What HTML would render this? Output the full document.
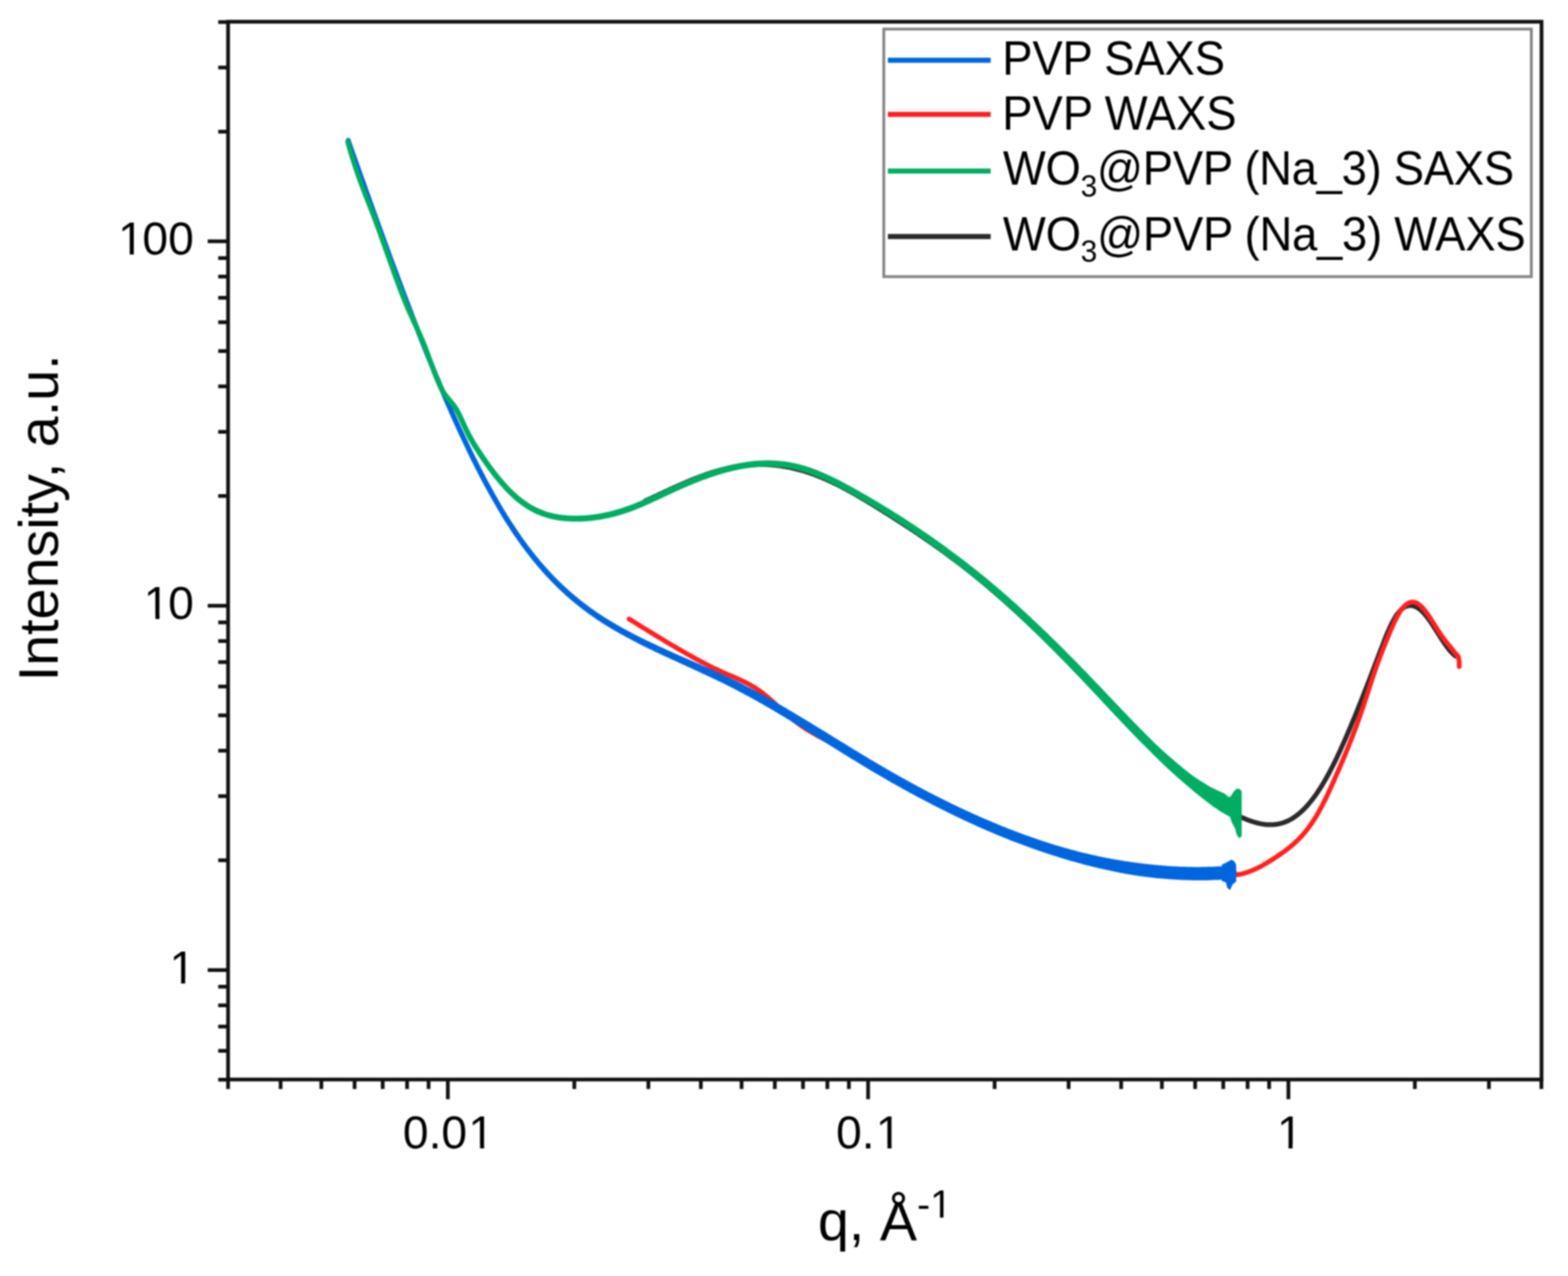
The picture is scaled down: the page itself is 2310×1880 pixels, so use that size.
<!DOCTYPE html>
<html><head><meta charset="utf-8"><title>SAXS/WAXS plot</title>
<style>html,body{margin:0;padding:0;background:#fff;overflow:hidden;} svg{display:block;} .wrap{filter:blur(0.8px);}</style>
</head><body>
<div class="wrap"><svg xmlns="http://www.w3.org/2000/svg" width="2310" height="1880" viewBox="0 0 2310 1880">
<rect x="0" y="0" width="2310" height="1880" fill="#fff"/>
<g>
<polygon points="952.1,741.2 954.1,740.3 956.1,739.4 958.1,738.4 960.1,737.5 962.1,736.6 964.1,735.6 966.1,734.7 968.1,733.7 970.1,732.8 972.1,731.9 974.1,730.9 976.1,730.0 978.1,729.1 980.1,728.1 982.1,727.2 984.1,726.3 986.1,725.3 988.1,724.4 990.1,723.5 992.1,722.6 994.1,721.7 996.1,720.8 998.1,719.9 1000.1,719.0 1002.1,718.1 1004.1,717.2 1006.1,716.3 1008.1,715.5 1010.1,714.6 1012.1,713.8 1014.1,712.9 1016.1,712.1 1018.1,711.3 1020.0,710.4 1022.0,709.6 1024.0,708.8 1026.0,708.0 1028.0,707.3 1030.0,706.5 1032.0,705.7 1034.0,705.0 1035.9,704.3 1037.9,703.5 1039.9,702.8 1041.9,702.1 1043.9,701.5 1045.9,700.8 1047.8,700.1 1049.8,699.5 1051.8,698.9 1053.8,698.3 1055.8,697.7 1057.7,697.1 1059.7,696.5 1061.7,696.0 1063.7,695.5 1065.7,695.0 1067.6,694.5 1069.6,694.0 1071.6,693.5 1073.6,693.1 1075.5,692.7 1077.5,692.3 1079.5,691.9 1081.4,691.5 1083.4,691.2 1085.4,690.8 1087.4,690.5 1089.3,690.2 1091.3,689.9 1093.3,689.7 1095.2,689.4 1097.2,689.2 1099.2,689.0 1101.2,688.8 1103.1,688.6 1105.1,688.5 1107.1,688.4 1109.0,688.2 1111.0,688.2 1113.0,688.1 1115.0,688.0 1116.9,688.0 1118.9,687.9 1120.9,687.9 1122.8,688.0 1124.8,688.0 1126.8,688.0 1128.8,688.1 1130.7,688.2 1132.7,688.3 1134.7,688.4 1136.6,688.6 1138.6,688.7 1140.6,688.9 1142.5,689.1 1144.5,689.3 1146.5,689.6 1148.5,689.8 1150.4,690.1 1152.4,690.4 1154.4,690.7 1156.3,691.0 1158.3,691.4 1160.3,691.8 1162.3,692.1 1164.2,692.5 1166.2,693.0 1168.2,693.4 1170.1,693.9 1172.1,694.4 1174.1,694.9 1176.1,695.4 1178.0,695.9 1180.0,696.5 1182.0,697.1 1184.0,697.6 1185.9,698.3 1187.9,698.9 1189.9,699.6 1191.9,700.2 1193.8,700.9 1195.8,701.6 1197.8,702.3 1199.8,703.1 1201.7,703.9 1203.7,704.6 1205.7,705.4 1207.7,706.2 1209.7,707.1 1211.6,707.9 1213.6,708.8 1215.6,709.6 1217.6,710.5 1219.6,711.4 1221.6,712.3 1223.6,713.3 1225.5,714.2 1227.5,715.2 1229.5,716.1 1231.5,717.1 1233.5,718.1 1235.5,719.1 1237.5,720.1 1239.5,721.2 1241.4,722.2 1243.4,723.3 1245.4,724.3 1247.4,725.4 1249.4,726.5 1251.4,727.6 1253.4,728.7 1255.4,729.8 1257.4,731.0 1259.4,732.1 1261.4,733.2 1263.4,734.4 1265.3,735.6 1267.3,736.7 1269.3,737.9 1271.3,739.1 1273.3,740.3 1275.3,741.5 1277.3,742.7 1279.3,743.9 1281.3,745.1 1283.3,746.3 1285.3,747.5 1287.3,748.8 1289.3,750.0 1291.3,751.2 1293.3,752.5 1295.3,753.7 1297.3,755.0 1299.3,756.2 1301.3,757.5 1303.3,758.7 1305.3,760.0 1307.3,761.3 1309.3,762.5 1311.3,763.8 1313.3,765.1 1315.3,766.4 1317.3,767.6 1319.3,768.9 1321.3,770.2 1323.3,771.5 1325.3,772.8 1327.3,774.1 1329.3,775.4 1331.3,776.7 1333.3,778.0 1335.3,779.3 1337.3,780.6 1339.3,782.0 1341.3,783.3 1343.3,784.6 1345.3,785.9 1347.3,787.3 1349.3,788.6 1351.3,790.0 1353.3,791.3 1355.3,792.7 1357.3,794.0 1359.3,795.4 1361.3,796.8 1363.3,798.2 1365.3,799.5 1367.3,800.9 1369.3,802.3 1371.3,803.7 1373.3,805.1 1375.3,806.5 1377.3,807.9 1379.3,809.4 1381.3,810.8 1383.3,812.2 1385.3,813.7 1387.2,815.1 1389.2,816.6 1391.2,818.0 1393.2,819.5 1395.2,821.0 1397.2,822.4 1399.2,823.9 1401.2,825.4 1403.2,826.9 1405.2,828.4 1407.2,829.9 1409.2,831.5 1411.2,833.0 1413.2,834.5 1415.2,836.1 1417.2,837.6 1419.2,839.2 1421.2,840.7 1423.2,842.3 1425.2,843.9 1427.2,845.5 1429.2,847.1 1431.2,848.7 1433.2,850.3 1435.2,851.9 1437.2,853.5 1439.2,855.2 1441.2,856.8 1443.2,858.5 1445.2,860.1 1447.2,861.8 1449.2,863.5 1451.2,865.1 1453.2,866.8 1455.1,868.5 1457.1,870.2 1459.1,871.9 1461.1,873.6 1463.1,875.3 1465.1,877.1 1467.1,878.8 1469.1,880.5 1471.1,882.3 1473.1,884.0 1475.1,885.8 1477.1,887.6 1479.1,889.3 1481.1,891.1 1483.1,892.9 1485.1,894.7 1487.1,896.5 1489.1,898.3 1491.1,900.1 1493.1,901.9 1495.1,903.8 1497.1,905.6 1499.1,907.4 1501.1,909.3 1503.1,911.1 1505.1,913.0 1507.1,914.9 1509.1,916.7 1511.1,918.6 1513.1,920.5 1515.1,922.4 1517.1,924.3 1519.1,926.2 1521.1,928.1 1523.1,930.0 1525.1,931.9 1527.1,933.8 1529.1,935.8 1531.1,937.7 1533.1,939.6 1535.1,941.6 1537.1,943.5 1539.1,945.5 1541.1,947.5 1543.1,949.4 1545.1,951.4 1547.1,953.4 1549.1,955.4 1551.1,957.4 1553.1,959.4 1555.1,961.4 1557.1,963.4 1559.1,965.4 1561.1,967.4 1563.1,969.4 1565.1,971.5 1567.1,973.5 1569.1,975.5 1571.1,977.6 1573.1,979.6 1575.1,981.6 1577.1,983.7 1579.1,985.7 1581.1,987.8 1583.1,989.9 1585.1,991.9 1587.1,994.0 1589.1,996.1 1591.1,998.1 1593.1,1000.2 1595.1,1002.3 1597.1,1004.4 1599.1,1006.5 1601.1,1008.5 1603.1,1010.6 1605.1,1012.7 1607.1,1014.8 1609.1,1016.9 1611.1,1019.0 1613.1,1021.1 1615.1,1023.2 1617.1,1025.3 1619.1,1027.4 1621.1,1029.5 1623.1,1031.7 1625.1,1033.8 1627.1,1035.9 1629.1,1038.0 1631.1,1040.1 1633.2,1042.2 1635.2,1044.4 1637.2,1046.5 1639.2,1048.6 1641.2,1050.7 1643.2,1052.8 1645.2,1055.0 1647.2,1057.1 1649.2,1059.2 1651.2,1061.3 1653.2,1063.5 1655.2,1065.6 1657.2,1067.7 1659.2,1069.8 1661.2,1072.0 1663.2,1074.1 1665.2,1076.2 1667.2,1078.3 1669.2,1080.4 1671.2,1082.5 1673.3,1084.5 1675.3,1086.6 1677.3,1088.6 1679.3,1090.7 1681.3,1092.7 1683.3,1094.7 1685.3,1096.7 1687.3,1098.6 1689.3,1100.6 1691.4,1102.5 1693.4,1104.5 1695.4,1106.4 1697.4,1108.3 1699.4,1110.2 1701.4,1112.1 1703.4,1114.0 1705.4,1115.9 1707.4,1117.8 1709.4,1119.6 1711.4,1121.5 1713.4,1123.4 1715.4,1125.2 1717.4,1127.1 1719.5,1129.0 1721.5,1130.8 1723.5,1132.7 1725.5,1134.5 1727.5,1136.4 1729.5,1138.2 1731.5,1140.1 1733.5,1141.9 1735.5,1143.7 1737.5,1145.5 1739.5,1147.4 1741.5,1149.2 1743.5,1151.0 1745.5,1152.8 1747.6,1154.6 1749.6,1156.3 1751.6,1158.1 1753.6,1159.9 1755.6,1161.6 1757.6,1163.4 1759.6,1165.1 1761.6,1166.8 1763.6,1168.5 1765.7,1170.2 1767.7,1171.9 1769.7,1173.6 1771.7,1175.2 1773.7,1176.9 1775.8,1178.5 1777.8,1180.0 1779.9,1181.5 1782.0,1183.0 1784.0,1184.4 1786.1,1185.7 1788.2,1186.9 1790.2,1188.1 1792.2,1189.2 1794.3,1190.3 1796.3,1191.5 1798.3,1192.6 1800.3,1193.7 1802.3,1194.8 1804.3,1195.8 1806.3,1196.9 1808.3,1198.0 1810.4,1199.0 1812.4,1200.1 1814.4,1201.1 1816.4,1202.1 1818.5,1203.1 1820.5,1204.1 1822.5,1205.1 1824.5,1206.0 1826.6,1206.9 1828.6,1207.8 1830.6,1208.7 1832.7,1209.6 1834.7,1210.4 1836.8,1211.2 1838.8,1212.0 1840.9,1212.7 1842.9,1213.4 1845.0,1214.1 1847.0,1214.7 1849.1,1215.3 1851.2,1215.9 1853.2,1216.4 1855.3,1216.8 1857.4,1217.2 1859.5,1217.6 1861.6,1217.9 1863.7,1218.2 1865.8,1218.4 1867.9,1218.5 1870.0,1218.6 1872.1,1218.6 1874.2,1218.6 1876.3,1218.4 1878.4,1218.3 1880.6,1218.0 1882.7,1217.7 1884.8,1217.3 1886.9,1216.8 1889.0,1216.2 1891.2,1215.6 1893.3,1214.9 1895.4,1214.0 1897.5,1213.2 1899.6,1212.2 1901.7,1211.1 1903.9,1209.9 1906.0,1208.7 1908.1,1207.3 1910.1,1205.9 1912.2,1204.4 1914.3,1202.8 1916.4,1201.1 1918.5,1199.3 1920.5,1197.4 1922.6,1195.4 1924.7,1193.3 1926.7,1191.2 1928.8,1188.9 1930.8,1186.6 1932.9,1184.1 1934.9,1181.6 1936.9,1179.0 1939.0,1176.2 1941.0,1173.4 1943.1,1170.5 1945.1,1167.5 1947.1,1164.4 1949.2,1161.3 1951.2,1158.0 1953.2,1154.6 1955.2,1151.1 1957.3,1147.6 1959.3,1143.9 1961.3,1140.2 1963.3,1136.3 1965.3,1132.4 1967.3,1128.5 1969.4,1124.4 1971.4,1120.2 1973.4,1116.0 1975.4,1111.8 1977.4,1107.4 1979.4,1103.0 1981.4,1098.5 1983.4,1094.0 1985.5,1089.4 1987.5,1084.8 1989.5,1080.1 1991.5,1075.4 1993.5,1070.6 1995.5,1065.8 1997.5,1060.9 1999.5,1056.0 2001.5,1051.1 2003.5,1046.1 2005.5,1041.1 2007.5,1036.1 2009.5,1031.1 2011.5,1026.0 2013.5,1020.9 2015.6,1015.7 2017.6,1010.6 2019.6,1005.4 2021.6,1000.2 2023.6,995.0 2025.6,989.8 2027.6,984.5 2029.6,979.2 2031.6,974.0 2033.6,968.7 2035.6,963.4 2037.6,958.1 2039.6,952.9 2041.6,947.7 2043.6,942.7 2045.6,937.8 2047.6,933.1 2049.5,928.5 2051.5,924.2 2053.5,920.2 2055.4,916.4 2057.4,913.0 2059.3,909.9 2061.2,907.1 2063.1,904.7 2064.9,902.6 2066.7,900.8 2068.5,899.3 2070.3,898.1 2071.9,897.1 2073.6,896.4 2075.2,896.0 2076.7,895.7 2078.3,895.7 2079.9,895.8 2081.5,896.2 2083.1,896.7 2084.8,897.5 2086.6,898.5 2088.4,899.7 2090.2,901.1 2092.0,902.8 2093.9,904.6 2095.8,906.7 2097.7,908.9 2099.7,911.4 2101.6,914.0 2103.6,916.8 2105.5,919.6 2107.5,922.6 2109.5,925.7 2111.5,928.8 2113.5,932.0 2115.5,935.1 2117.5,938.3 2119.5,941.5 2121.5,944.6 2123.6,947.7 2125.6,950.6 2127.6,953.5 2129.7,956.3 2131.8,959.0 2133.8,961.4 2136.0,963.8 2138.1,965.9 2140.3,967.8 2142.4,969.4 2146.6,963.9 2144.7,962.4 2142.9,960.8 2141.0,958.9 2139.1,956.8 2137.2,954.6 2135.3,952.1 2133.3,949.4 2131.4,946.7 2129.4,943.8 2127.4,940.8 2125.4,937.7 2123.4,934.6 2121.4,931.4 2119.4,928.2 2117.4,925.0 2115.4,921.9 2113.4,918.8 2111.3,915.7 2109.3,912.7 2107.3,909.9 2105.2,907.1 2103.1,904.5 2101.1,902.0 2098.9,899.8 2096.8,897.7 2094.7,895.7 2092.5,894.0 2090.3,892.5 2088.0,891.3 2085.7,890.2 2083.3,889.4 2080.9,888.9 2078.5,888.7 2076.1,888.7 2073.6,889.1 2071.2,889.8 2068.8,890.8 2066.5,892.1 2064.2,893.7 2062.0,895.6 2059.8,897.8 2057.7,900.3 2055.5,903.0 2053.4,906.1 2051.3,909.4 2049.3,913.1 2047.2,917.0 2045.2,921.2 2043.1,925.7 2041.1,930.3 2039.1,935.1 2037.1,940.1 2035.1,945.2 2033.1,950.4 2031.1,955.6 2029.0,960.9 2027.0,966.2 2025.0,971.5 2023.0,976.8 2021.0,982.0 2019.0,987.3 2017.0,992.5 2015.0,997.7 2013.0,1002.9 2011.0,1008.0 2009.0,1013.2 2007.0,1018.3 2005.0,1023.4 2003.0,1028.5 2001.0,1033.5 1999.0,1038.5 1997.0,1043.5 1995.0,1048.5 1993.0,1053.4 1991.0,1058.2 1989.0,1063.1 1987.0,1067.9 1985.0,1072.6 1983.0,1077.3 1981.0,1082.0 1979.0,1086.6 1977.0,1091.2 1975.0,1095.7 1973.0,1100.1 1971.1,1104.5 1969.1,1108.8 1967.1,1113.0 1965.1,1117.2 1963.1,1121.3 1961.1,1125.3 1959.1,1129.3 1957.1,1133.1 1955.1,1136.9 1953.1,1140.6 1951.1,1144.1 1949.2,1147.6 1947.2,1151.0 1945.2,1154.3 1943.2,1157.5 1941.2,1160.6 1939.3,1163.6 1937.3,1166.6 1935.3,1169.4 1933.4,1172.1 1931.4,1174.7 1929.4,1177.2 1927.5,1179.7 1925.5,1182.0 1923.5,1184.2 1921.6,1186.4 1919.6,1188.4 1917.7,1190.4 1915.7,1192.3 1913.8,1194.0 1911.9,1195.7 1909.9,1197.3 1908.0,1198.8 1906.1,1200.2 1904.2,1201.5 1902.3,1202.7 1900.4,1203.9 1898.5,1204.9 1896.6,1205.9 1894.7,1206.8 1892.8,1207.6 1890.9,1208.3 1889.0,1208.9 1887.1,1209.5 1885.3,1210.0 1883.4,1210.4 1881.5,1210.8 1879.6,1211.1 1877.7,1211.3 1875.8,1211.5 1873.9,1211.6 1872.0,1211.6 1870.1,1211.6 1868.2,1211.5 1866.3,1211.4 1864.4,1211.2 1862.5,1211.0 1860.6,1210.7 1858.7,1210.4 1856.8,1210.0 1854.8,1209.5 1852.9,1209.1 1851.0,1208.6 1849.0,1208.0 1847.1,1207.4 1845.1,1206.8 1843.2,1206.1 1841.2,1205.4 1839.3,1204.7 1837.3,1203.9 1835.3,1203.1 1833.4,1202.3 1831.4,1201.4 1829.4,1200.5 1827.5,1199.6 1825.5,1198.7 1823.5,1197.8 1821.5,1196.8 1819.5,1195.9 1817.6,1194.9 1815.6,1193.9 1813.6,1192.8 1811.6,1191.8 1809.6,1190.7 1807.6,1189.7 1805.6,1188.6 1803.6,1187.5 1801.6,1186.4 1799.6,1185.3 1797.6,1184.2 1795.7,1183.1 1793.7,1182.0 1791.7,1180.9 1789.8,1179.7 1787.8,1178.5 1785.9,1177.2 1784.0,1175.9 1782.0,1174.4 1780.1,1172.9 1778.1,1171.4 1776.1,1169.8 1774.1,1168.2 1772.1,1166.5 1770.2,1164.8 1768.2,1163.2 1766.2,1161.5 1764.2,1159.8 1762.2,1158.0 1760.2,1156.3 1758.2,1154.6 1756.2,1152.8 1754.2,1151.1 1752.2,1149.3 1750.2,1147.5 1748.2,1145.8 1746.2,1144.0 1744.2,1142.2 1742.2,1140.4 1740.2,1138.5 1738.2,1136.7 1736.2,1134.9 1734.2,1133.1 1732.2,1131.2 1730.2,1129.4 1728.2,1127.5 1726.2,1125.7 1724.2,1123.8 1722.2,1122.0 1720.2,1120.1 1718.2,1118.2 1716.2,1116.4 1714.2,1114.5 1712.2,1112.6 1710.2,1110.8 1708.2,1108.9 1706.2,1107.0 1704.2,1105.1 1702.2,1103.2 1700.2,1101.3 1698.2,1099.4 1696.2,1097.5 1694.2,1095.6 1692.2,1093.6 1690.2,1091.7 1688.2,1089.7 1686.2,1087.7 1684.3,1085.7 1682.3,1083.7 1680.3,1081.7 1678.3,1079.6 1676.3,1077.6 1674.3,1075.5 1672.3,1073.4 1670.3,1071.3 1668.3,1069.2 1666.3,1067.1 1664.3,1065.0 1662.3,1062.9 1660.3,1060.8 1658.3,1058.7 1656.3,1056.5 1654.3,1054.4 1652.3,1052.3 1650.3,1050.2 1648.3,1048.0 1646.3,1045.9 1644.3,1043.8 1642.2,1041.7 1640.2,1039.6 1638.2,1037.4 1636.2,1035.3 1634.2,1033.2 1632.2,1031.1 1630.2,1029.0 1628.2,1026.8 1626.2,1024.7 1624.2,1022.6 1622.2,1020.5 1620.2,1018.4 1618.2,1016.3 1616.2,1014.2 1614.2,1012.1 1612.2,1010.0 1610.2,1007.9 1608.2,1005.8 1606.2,1003.7 1604.2,1001.6 1602.2,999.5 1600.2,997.4 1598.2,995.4 1596.1,993.3 1594.1,991.2 1592.1,989.1 1590.1,987.0 1588.1,985.0 1586.1,982.9 1584.1,980.9 1582.1,978.8 1580.1,976.7 1578.1,974.7 1576.1,972.6 1574.1,970.6 1572.1,968.6 1570.1,966.5 1568.1,964.5 1566.1,962.5 1564.1,960.5 1562.1,958.4 1560.0,956.4 1558.0,954.4 1556.0,952.4 1554.0,950.4 1552.0,948.4 1550.0,946.4 1548.0,944.5 1546.0,942.5 1544.0,940.5 1542.0,938.5 1540.0,936.6 1538.0,934.6 1536.0,932.7 1534.0,930.7 1532.0,928.8 1529.9,926.9 1527.9,924.9 1525.9,923.0 1523.9,921.1 1521.9,919.2 1519.9,917.3 1517.9,915.4 1515.9,913.5 1513.9,911.6 1511.9,909.7 1509.9,907.9 1507.9,906.0 1505.9,904.1 1503.9,902.3 1501.8,900.4 1499.8,898.6 1497.8,896.8 1495.8,894.9 1493.8,893.1 1491.8,891.3 1489.8,889.5 1487.8,887.7 1485.8,885.9 1483.8,884.1 1481.8,882.3 1479.8,880.5 1477.8,878.8 1475.7,877.0 1473.7,875.3 1471.7,873.5 1469.7,871.8 1467.7,870.0 1465.7,868.3 1463.7,866.6 1461.7,864.9 1459.7,863.2 1457.7,861.5 1455.7,859.8 1453.7,858.1 1451.6,856.4 1449.6,854.7 1447.6,853.1 1445.6,851.4 1443.6,849.8 1441.6,848.1 1439.6,846.5 1437.6,844.9 1435.6,843.2 1433.6,841.6 1431.6,840.0 1429.5,838.4 1427.5,836.8 1425.5,835.2 1423.5,833.7 1421.5,832.1 1419.5,830.5 1417.5,829.0 1415.5,827.4 1413.5,825.9 1411.5,824.4 1409.4,822.8 1407.4,821.3 1405.4,819.8 1403.4,818.3 1401.4,816.8 1399.4,815.3 1397.4,813.9 1395.4,812.4 1393.4,810.9 1391.4,809.5 1389.4,808.0 1387.3,806.5 1385.3,805.1 1383.3,803.7 1381.3,802.2 1379.3,800.8 1377.3,799.4 1375.3,798.0 1373.3,796.6 1371.3,795.2 1369.3,793.8 1367.3,792.4 1365.2,791.0 1363.2,789.6 1361.2,788.3 1359.2,786.9 1357.2,785.5 1355.2,784.2 1353.2,782.8 1351.2,781.5 1349.2,780.1 1347.2,778.8 1345.2,777.4 1343.2,776.1 1341.2,774.8 1339.1,773.5 1337.1,772.1 1335.1,770.8 1333.1,769.5 1331.1,768.2 1329.1,766.9 1327.1,765.6 1325.1,764.3 1323.1,763.0 1321.1,761.7 1319.1,760.5 1317.1,759.2 1315.1,757.9 1313.1,756.6 1311.1,755.4 1309.0,754.1 1307.0,752.8 1305.0,751.6 1303.0,750.3 1301.0,749.0 1299.0,747.8 1297.0,746.5 1295.0,745.3 1293.0,744.0 1291.0,742.8 1289.0,741.6 1287.0,740.3 1285.0,739.1 1282.9,737.9 1280.9,736.7 1278.9,735.5 1276.9,734.3 1274.9,733.1 1272.9,731.9 1270.9,730.7 1268.9,729.5 1266.9,728.3 1264.9,727.2 1262.8,726.0 1260.8,724.9 1258.8,723.7 1256.8,722.6 1254.8,721.5 1252.8,720.4 1250.8,719.3 1248.7,718.2 1246.7,717.1 1244.7,716.0 1242.7,715.0 1240.7,713.9 1238.7,712.9 1236.6,711.9 1234.6,710.9 1232.6,709.9 1230.6,708.9 1228.6,707.9 1226.5,706.9 1224.5,706.0 1222.5,705.1 1220.5,704.1 1218.5,703.2 1216.4,702.3 1214.4,701.5 1212.4,700.6 1210.4,699.8 1208.3,698.9 1206.3,698.1 1204.3,697.3 1202.3,696.5 1200.2,695.8 1198.2,695.0 1196.2,694.3 1194.1,693.6 1192.1,692.9 1190.1,692.2 1188.0,691.6 1186.0,691.0 1184.0,690.3 1181.9,689.7 1179.9,689.2 1177.9,688.6 1175.8,688.1 1173.8,687.6 1171.8,687.1 1169.7,686.6 1167.7,686.1 1165.7,685.7 1163.6,685.3 1161.6,684.9 1159.6,684.5 1157.5,684.1 1155.5,683.8 1153.5,683.5 1151.4,683.2 1149.4,682.9 1147.4,682.6 1145.3,682.4 1143.3,682.2 1141.2,681.9 1139.2,681.8 1137.2,681.6 1135.1,681.4 1133.1,681.3 1131.1,681.2 1129.0,681.1 1127.0,681.0 1125.0,681.0 1122.9,681.0 1120.9,680.9 1118.9,680.9 1116.8,681.0 1114.8,681.0 1112.7,681.1 1110.7,681.2 1108.7,681.3 1106.6,681.4 1104.6,681.5 1102.6,681.7 1100.5,681.8 1098.5,682.0 1096.5,682.2 1094.4,682.5 1092.4,682.7 1090.4,683.0 1088.3,683.3 1086.3,683.6 1084.3,683.9 1082.2,684.3 1080.2,684.6 1078.2,685.0 1076.1,685.4 1074.1,685.8 1072.1,686.2 1070.0,686.7 1068.0,687.2 1066.0,687.7 1063.9,688.2 1061.9,688.7 1059.9,689.2 1057.8,689.8 1055.8,690.4 1053.8,691.0 1051.8,691.6 1049.7,692.2 1047.7,692.8 1045.7,693.5 1043.7,694.2 1041.6,694.8 1039.6,695.5 1037.6,696.2 1035.6,697.0 1033.5,697.7 1031.5,698.4 1029.5,699.2 1027.5,700.0 1025.5,700.7 1023.4,701.5 1021.4,702.3 1019.4,703.1 1017.4,704.0 1015.4,704.8 1013.4,705.6 1011.3,706.5 1009.3,707.3 1007.3,708.2 1005.3,709.1 1003.3,709.9 1001.3,710.8 999.3,711.7 997.3,712.6 995.3,713.5 993.2,714.4 991.2,715.3 989.2,716.2 987.2,717.1 985.2,718.1 983.2,719.0 981.2,719.9 979.2,720.8 977.2,721.8 975.2,722.7 973.2,723.7 971.2,724.6 969.2,725.5 967.2,726.5 965.2,727.4 963.1,728.3 961.1,729.3 959.1,730.2 957.1,731.2 955.1,732.1 953.1,733.0 951.1,734.0 949.1,734.9" fill="#2a2a2a"/><circle cx="950.6" cy="738.1" r="3.50" fill="#2a2a2a"/><circle cx="2144.5" cy="966.7" r="3.50" fill="#2a2a2a"/>
<polygon points="924.9,914.9 927.0,916.2 929.0,917.4 931.0,918.6 933.0,919.9 935.0,921.1 937.0,922.4 939.0,923.6 941.0,924.9 943.0,926.1 945.0,927.4 947.0,928.6 949.0,929.8 951.0,931.1 953.0,932.3 955.0,933.6 957.0,934.8 959.0,936.0 961.0,937.2 963.0,938.5 965.0,939.7 967.0,940.9 969.0,942.1 971.1,943.3 973.1,944.6 975.1,945.8 977.1,947.0 979.1,948.2 981.1,949.4 983.1,950.6 985.1,951.8 987.1,953.0 989.1,954.1 991.1,955.3 993.1,956.5 995.1,957.7 997.1,958.8 999.2,960.0 1001.2,961.2 1003.2,962.3 1005.2,963.5 1007.2,964.6 1009.2,965.8 1011.2,966.9 1013.2,968.0 1015.2,969.1 1017.2,970.3 1019.2,971.4 1021.3,972.5 1023.3,973.6 1025.3,974.7 1027.3,975.8 1029.3,976.8 1031.3,977.9 1033.3,979.0 1035.3,980.0 1037.4,981.1 1039.4,982.1 1041.4,983.2 1043.4,984.2 1045.4,985.2 1047.4,986.2 1049.4,987.2 1051.5,988.2 1053.5,989.1 1055.5,990.1 1057.5,991.0 1059.5,992.0 1061.6,992.9 1063.6,993.8 1065.6,994.7 1067.6,995.6 1069.6,996.5 1071.6,997.3 1073.6,998.2 1075.6,999.0 1077.6,999.9 1079.6,1000.8 1081.6,1001.6 1083.6,1002.5 1085.6,1003.4 1087.6,1004.3 1089.6,1005.2 1091.5,1006.1 1093.5,1007.0 1095.5,1008.0 1097.5,1009.0 1099.4,1010.0 1101.4,1011.1 1103.4,1012.1 1105.3,1013.2 1107.3,1014.4 1109.2,1015.6 1111.2,1016.8 1113.1,1018.1 1115.1,1019.4 1117.0,1020.8 1119.0,1022.2 1121.0,1023.7 1122.9,1025.2 1124.9,1026.8 1126.9,1028.4 1128.8,1030.1 1130.8,1031.7 1132.8,1033.5 1134.8,1035.2 1136.8,1037.0 1138.8,1038.8 1140.8,1040.6 1142.8,1042.4 1144.8,1044.2 1146.8,1046.1 1148.8,1047.9 1150.8,1049.7 1152.8,1051.5 1154.8,1053.3 1156.8,1055.1 1158.9,1056.9 1160.9,1058.6 1162.9,1060.3 1164.9,1062.0 1167.0,1063.7 1169.0,1065.3 1171.1,1066.8 1173.1,1068.3 1175.1,1069.8 1177.2,1071.3 1179.2,1072.7 1181.2,1074.0 1183.3,1075.4 1185.3,1076.7 1187.3,1078.0 1189.4,1079.2 1191.4,1080.4 1193.4,1081.6 1195.4,1082.8 1197.5,1084.0 1199.5,1085.1 1201.5,1086.3 1203.5,1087.4 1205.5,1088.5 1207.6,1089.6 1209.6,1090.6 1211.6,1091.7 1213.6,1092.8 1215.6,1093.8 1217.6,1094.9 1219.6,1095.9 1221.6,1097.0 1223.6,1098.1 1225.6,1099.1 1227.6,1100.2 1229.6,1101.3 1231.6,1102.3 1233.6,1103.4 1235.5,1104.5 1237.5,1105.7 1239.5,1106.8 1241.5,1107.9 1243.5,1109.1 1245.5,1110.3 1247.5,1111.5 1249.5,1112.7 1251.5,1113.9 1253.5,1115.1 1255.4,1116.3 1257.4,1117.6 1259.4,1118.8 1261.4,1120.1 1263.4,1121.3 1265.4,1122.6 1267.4,1123.8 1269.4,1125.1 1271.4,1126.4 1273.4,1127.6 1275.5,1128.9 1277.5,1130.2 1279.5,1131.4 1281.5,1132.7 1283.5,1133.9 1285.5,1135.2 1287.5,1136.4 1289.5,1137.6 1291.5,1138.8 1293.5,1140.1 1295.6,1141.3 1297.6,1142.5 1299.6,1143.6 1301.6,1144.8 1303.6,1145.9 1305.7,1147.1 1307.7,1148.2 1309.7,1149.3 1311.7,1150.4 1313.7,1151.5 1315.8,1152.5 1317.8,1153.6 1319.8,1154.6 1321.8,1155.6 1323.8,1156.6 1325.8,1157.6 1327.9,1158.6 1329.9,1159.6 1331.9,1160.6 1333.9,1161.5 1335.9,1162.5 1337.9,1163.4 1339.9,1164.4 1341.9,1165.3 1343.9,1166.3 1345.9,1167.2 1347.9,1168.1 1349.9,1169.1 1352.0,1170.0 1354.0,1170.9 1356.0,1171.9 1358.0,1172.8 1360.0,1173.7 1362.0,1174.7 1363.9,1175.6 1365.9,1176.6 1367.9,1177.5 1369.9,1178.5 1371.9,1179.4 1373.9,1180.4 1375.9,1181.4 1377.9,1182.4 1379.9,1183.4 1381.9,1184.4 1383.9,1185.4 1385.9,1186.4 1387.9,1187.5 1389.9,1188.5 1391.9,1189.6 1393.9,1190.6 1395.9,1191.7 1397.9,1192.7 1399.9,1193.8 1401.9,1194.8 1403.9,1195.9 1405.9,1196.9 1407.9,1198.0 1409.9,1199.1 1411.9,1200.1 1413.9,1201.2 1415.9,1202.3 1417.9,1203.3 1419.9,1204.4 1421.9,1205.4 1423.9,1206.5 1425.9,1207.5 1427.9,1208.6 1429.9,1209.6 1432.0,1210.6 1434.0,1211.6 1436.0,1212.7 1438.0,1213.7 1440.0,1214.7 1442.0,1215.6 1444.0,1216.6 1446.1,1217.6 1448.1,1218.5 1450.1,1219.5 1452.1,1220.4 1454.1,1221.4 1456.1,1222.3 1458.2,1223.2 1460.2,1224.1 1462.2,1225.0 1464.2,1225.8 1466.2,1226.7 1468.2,1227.6 1470.2,1228.4 1472.3,1229.2 1474.3,1230.1 1476.3,1230.9 1478.3,1231.7 1480.3,1232.5 1482.3,1233.3 1484.4,1234.1 1486.4,1234.9 1488.4,1235.7 1490.4,1236.4 1492.4,1237.2 1494.4,1237.9 1496.4,1238.7 1498.4,1239.4 1500.5,1240.1 1502.5,1240.9 1504.5,1241.6 1506.5,1242.3 1508.5,1243.0 1510.5,1243.7 1512.5,1244.4 1514.5,1245.1 1516.6,1245.7 1518.6,1246.4 1520.6,1247.1 1522.6,1247.7 1524.6,1248.4 1526.6,1249.0 1528.6,1249.7 1530.6,1250.3 1532.6,1250.9 1534.7,1251.6 1536.7,1252.2 1538.7,1252.8 1540.7,1253.4 1542.7,1254.0 1544.7,1254.6 1546.7,1255.3 1548.7,1255.8 1550.7,1256.4 1552.7,1257.0 1554.7,1257.6 1556.8,1258.2 1558.8,1258.8 1560.8,1259.4 1562.8,1259.9 1564.8,1260.5 1566.8,1261.1 1568.8,1261.7 1570.8,1262.2 1572.8,1262.8 1574.8,1263.3 1576.8,1263.9 1578.8,1264.5 1580.8,1265.0 1582.8,1265.6 1584.8,1266.1 1586.8,1266.7 1588.9,1267.2 1590.9,1267.8 1592.9,1268.3 1594.9,1268.9 1596.9,1269.4 1598.9,1270.0 1600.9,1270.5 1602.9,1271.0 1604.9,1271.6 1606.9,1272.1 1608.9,1272.6 1610.9,1273.2 1612.9,1273.7 1614.9,1274.2 1616.9,1274.8 1619.0,1275.3 1621.0,1275.8 1623.0,1276.3 1625.0,1276.8 1627.0,1277.3 1629.0,1277.8 1631.0,1278.3 1633.0,1278.8 1635.0,1279.2 1637.1,1279.7 1639.1,1280.2 1641.1,1280.7 1643.1,1281.1 1645.1,1281.6 1647.1,1282.0 1649.1,1282.4 1651.2,1282.8 1653.2,1283.3 1655.2,1283.7 1657.2,1284.1 1659.2,1284.5 1661.2,1284.9 1663.3,1285.2 1665.3,1285.6 1667.3,1285.9 1669.3,1286.3 1671.3,1286.6 1673.4,1287.0 1675.4,1287.3 1677.4,1287.6 1679.4,1287.9 1681.4,1288.2 1683.4,1288.4 1685.5,1288.7 1687.5,1289.0 1689.5,1289.2 1691.5,1289.5 1693.5,1289.7 1695.5,1289.9 1697.6,1290.2 1699.6,1290.4 1701.6,1290.6 1703.6,1290.8 1705.6,1291.0 1707.6,1291.1 1709.7,1291.3 1711.7,1291.5 1713.7,1291.6 1715.7,1291.8 1717.7,1291.9 1719.7,1292.1 1721.7,1292.2 1723.8,1292.3 1725.8,1292.4 1727.8,1292.6 1729.8,1292.7 1731.8,1292.8 1733.8,1292.9 1735.8,1292.9 1737.9,1293.0 1739.9,1293.1 1741.9,1293.2 1743.9,1293.2 1745.9,1293.3 1747.9,1293.4 1749.9,1293.4 1751.9,1293.4 1754.0,1293.5 1756.0,1293.5 1758.0,1293.5 1760.0,1293.6 1762.0,1293.6 1764.0,1293.6 1766.0,1293.6 1768.0,1293.6 1770.0,1293.6 1772.0,1293.6 1774.1,1293.6 1776.1,1293.6 1778.1,1293.6 1780.1,1293.6 1782.1,1293.6 1784.1,1293.6 1786.1,1293.6 1788.1,1293.5 1790.1,1293.5 1792.1,1293.5 1794.1,1293.4 1796.1,1293.4 1798.1,1293.4 1800.2,1293.3 1802.2,1293.3 1804.2,1293.3 1806.2,1293.2 1808.2,1293.2 1810.2,1293.1 1812.2,1293.1 1814.2,1293.0 1816.3,1292.9 1818.4,1292.8 1820.5,1292.6 1822.6,1292.3 1824.7,1292.0 1826.8,1291.7 1828.9,1291.2 1831.0,1290.8 1833.0,1290.2 1835.1,1289.6 1837.2,1289.0 1839.3,1288.3 1841.4,1287.6 1843.4,1286.8 1845.5,1286.0 1847.5,1285.1 1849.6,1284.2 1851.6,1283.2 1853.7,1282.3 1855.7,1281.2 1857.8,1280.2 1859.8,1279.1 1861.9,1278.0 1863.9,1276.8 1865.9,1275.7 1868.0,1274.5 1870.0,1273.3 1872.0,1272.0 1874.1,1270.7 1876.1,1269.5 1878.1,1268.2 1880.1,1266.8 1882.1,1265.5 1884.2,1264.2 1886.2,1262.8 1888.2,1261.4 1890.2,1260.0 1892.3,1258.6 1894.3,1257.1 1896.3,1255.6 1898.4,1254.1 1900.4,1252.5 1902.4,1250.8 1904.5,1249.2 1906.5,1247.4 1908.6,1245.6 1910.6,1243.8 1912.7,1241.8 1914.7,1239.8 1916.8,1237.8 1918.8,1235.6 1920.9,1233.4 1922.9,1231.0 1925.0,1228.6 1927.0,1226.1 1929.0,1223.5 1931.1,1220.8 1933.1,1218.0 1935.2,1215.1 1937.2,1212.1 1939.2,1208.9 1941.3,1205.6 1943.3,1202.2 1945.3,1198.7 1947.4,1195.1 1949.4,1191.3 1951.4,1187.4 1953.4,1183.4 1955.5,1179.4 1957.5,1175.2 1959.5,1171.0 1961.5,1166.7 1963.5,1162.3 1965.5,1157.9 1967.5,1153.4 1969.5,1148.9 1971.5,1144.3 1973.5,1139.7 1975.6,1135.1 1977.6,1130.5 1979.6,1125.8 1981.6,1121.1 1983.6,1116.3 1985.6,1111.5 1987.6,1106.6 1989.6,1101.6 1991.6,1096.6 1993.6,1091.5 1995.6,1086.4 1997.6,1081.1 1999.7,1075.8 2001.7,1070.3 2003.7,1064.8 2005.7,1059.2 2007.7,1053.5 2009.7,1047.6 2011.7,1041.7 2013.7,1035.7 2015.7,1029.6 2017.7,1023.4 2019.7,1017.2 2021.7,1011.0 2023.7,1004.9 2025.7,998.8 2027.7,993.0 2029.7,987.2 2031.7,981.6 2033.7,976.1 2035.7,970.8 2037.7,965.5 2039.7,960.3 2041.7,955.2 2043.7,950.2 2045.7,945.3 2047.7,940.4 2049.7,935.6 2051.7,930.8 2053.7,926.2 2055.6,921.7 2057.6,917.5 2059.6,913.4 2061.5,909.7 2063.5,906.2 2065.4,903.1 2067.3,900.3 2069.2,897.9 2071.0,895.9 2072.8,894.2 2074.5,892.9 2076.1,891.9 2077.7,891.2 2079.2,890.8 2080.6,890.6 2082.1,890.7 2083.6,891.0 2085.1,891.5 2086.7,892.4 2088.4,893.5 2090.2,894.9 2092.0,896.7 2093.9,898.7 2095.8,901.0 2097.7,903.5 2099.7,906.1 2101.6,909.0 2103.6,911.9 2105.6,915.0 2107.6,918.1 2109.6,921.3 2111.6,924.5 2113.6,927.7 2115.6,930.9 2117.6,934.0 2119.7,937.0 2121.7,939.9 2123.8,942.7 2125.8,945.4 2127.8,948.0 2129.8,950.6 2131.9,953.1 2133.9,955.6 2135.9,958.0 2137.9,960.5 2139.9,962.9 2141.9,965.4 2143.9,967.8 2145.8,970.4 2151.4,966.1 2149.3,963.5 2147.3,961.0 2145.3,958.5 2143.3,956.0 2141.3,953.6 2139.3,951.1 2137.3,948.7 2135.3,946.2 2133.3,943.7 2131.4,941.2 2129.4,938.5 2127.4,935.8 2125.4,933.0 2123.5,930.1 2121.5,927.1 2119.5,923.9 2117.5,920.8 2115.5,917.6 2113.5,914.4 2111.5,911.2 2109.5,908.1 2107.4,905.0 2105.4,902.1 2103.3,899.3 2101.2,896.6 2099.1,894.1 2097.0,891.8 2094.8,889.7 2092.6,887.9 2090.3,886.3 2087.9,885.1 2085.4,884.2 2082.9,883.7 2080.4,883.6 2077.8,883.9 2075.3,884.6 2072.9,885.7 2070.5,887.2 2068.2,888.9 2066.0,891.0 2063.8,893.5 2061.6,896.2 2059.5,899.3 2057.5,902.7 2055.4,906.4 2053.3,910.3 2051.3,914.5 2049.3,918.9 2047.2,923.4 2045.2,928.1 2043.2,932.9 2041.2,937.7 2039.2,942.6 2037.2,947.6 2035.2,952.7 2033.2,957.8 2031.2,963.0 2029.2,968.3 2027.1,973.7 2025.1,979.3 2023.1,984.9 2021.1,990.7 2019.1,996.6 2017.1,1002.7 2015.1,1008.8 2013.1,1015.0 2011.1,1021.3 2009.1,1027.4 2007.1,1033.5 2005.1,1039.5 2003.1,1045.4 2001.1,1051.1 1999.1,1056.8 1997.1,1062.4 1995.1,1067.9 1993.1,1073.3 1991.1,1078.6 1989.1,1083.8 1987.1,1089.0 1985.1,1094.0 1983.1,1099.0 1981.1,1103.9 1979.1,1108.8 1977.1,1113.6 1975.1,1118.3 1973.1,1123.0 1971.1,1127.7 1969.1,1132.3 1967.1,1136.9 1965.1,1141.5 1963.1,1146.0 1961.1,1150.5 1959.1,1155.0 1957.1,1159.4 1955.1,1163.7 1953.2,1168.0 1951.2,1172.2 1949.2,1176.3 1947.2,1180.3 1945.2,1184.2 1943.2,1188.0 1941.2,1191.7 1939.3,1195.3 1937.3,1198.7 1935.3,1202.0 1933.3,1205.2 1931.4,1208.2 1929.4,1211.1 1927.4,1213.9 1925.5,1216.7 1923.5,1219.3 1921.5,1221.8 1919.6,1224.2 1917.6,1226.5 1915.7,1228.7 1913.7,1230.8 1911.7,1232.9 1909.8,1234.9 1907.8,1236.8 1905.9,1238.6 1903.9,1240.4 1902.0,1242.1 1900.0,1243.8 1898.0,1245.4 1896.1,1247.0 1894.1,1248.5 1892.1,1250.0 1890.2,1251.4 1888.2,1252.9 1886.2,1254.3 1884.2,1255.6 1882.2,1257.0 1880.3,1258.3 1878.3,1259.7 1876.3,1261.0 1874.3,1262.3 1872.3,1263.6 1870.3,1264.8 1868.3,1266.1 1866.4,1267.3 1864.4,1268.5 1862.4,1269.6 1860.4,1270.8 1858.5,1271.9 1856.5,1272.9 1854.5,1274.0 1852.6,1275.0 1850.6,1276.0 1848.7,1276.9 1846.7,1277.8 1844.8,1278.7 1842.8,1279.5 1840.9,1280.3 1838.9,1281.0 1837.0,1281.7 1835.1,1282.3 1833.1,1282.9 1831.2,1283.5 1829.3,1284.0 1827.4,1284.4 1825.5,1284.8 1823.6,1285.1 1821.7,1285.4 1819.8,1285.6 1817.8,1285.8 1815.9,1285.9 1814.0,1286.0 1812.0,1286.1 1810.0,1286.1 1808.0,1286.2 1806.0,1286.2 1804.0,1286.3 1802.0,1286.3 1800.0,1286.3 1798.0,1286.4 1796.0,1286.4 1794.0,1286.4 1792.0,1286.5 1790.0,1286.5 1788.0,1286.5 1786.0,1286.6 1784.0,1286.6 1782.0,1286.6 1780.0,1286.6 1778.0,1286.6 1776.0,1286.6 1774.0,1286.6 1772.0,1286.6 1770.0,1286.6 1768.1,1286.6 1766.1,1286.6 1764.1,1286.6 1762.1,1286.6 1760.1,1286.6 1758.1,1286.6 1756.1,1286.5 1754.1,1286.5 1752.1,1286.4 1750.1,1286.4 1748.1,1286.4 1746.1,1286.3 1744.1,1286.2 1742.1,1286.2 1740.1,1286.1 1738.1,1286.0 1736.1,1286.0 1734.1,1285.9 1732.2,1285.8 1730.2,1285.7 1728.2,1285.6 1726.2,1285.5 1724.2,1285.3 1722.2,1285.2 1720.2,1285.1 1718.2,1285.0 1716.2,1284.8 1714.2,1284.7 1712.2,1284.5 1710.2,1284.3 1708.3,1284.2 1706.3,1284.0 1704.3,1283.8 1702.3,1283.6 1700.3,1283.4 1698.3,1283.2 1696.3,1283.0 1694.3,1282.8 1692.3,1282.5 1690.4,1282.3 1688.4,1282.0 1686.4,1281.8 1684.4,1281.5 1682.4,1281.2 1680.4,1280.9 1678.4,1280.7 1676.4,1280.4 1674.5,1280.0 1672.5,1279.7 1670.5,1279.4 1668.5,1279.0 1666.5,1278.7 1664.5,1278.3 1662.5,1278.0 1660.5,1277.6 1658.6,1277.2 1656.6,1276.8 1654.6,1276.4 1652.6,1276.0 1650.6,1275.6 1648.6,1275.2 1646.6,1274.7 1644.6,1274.3 1642.6,1273.8 1640.6,1273.4 1638.6,1272.9 1636.7,1272.4 1634.7,1272.0 1632.7,1271.5 1630.7,1271.0 1628.7,1270.5 1626.7,1270.0 1624.7,1269.5 1622.7,1269.0 1620.7,1268.5 1618.7,1268.0 1616.7,1267.5 1614.7,1266.9 1612.7,1266.4 1610.7,1265.9 1608.7,1265.3 1606.7,1264.8 1604.7,1264.3 1602.7,1263.7 1600.7,1263.2 1598.7,1262.7 1596.7,1262.1 1594.7,1261.6 1592.7,1261.0 1590.7,1260.5 1588.7,1259.9 1586.7,1259.4 1584.7,1258.8 1582.7,1258.3 1580.7,1257.7 1578.7,1257.2 1576.7,1256.6 1574.7,1256.0 1572.7,1255.5 1570.7,1254.9 1568.7,1254.4 1566.7,1253.8 1564.7,1253.2 1562.7,1252.6 1560.7,1252.1 1558.7,1251.5 1556.7,1250.9 1554.7,1250.3 1552.7,1249.7 1550.7,1249.1 1548.7,1248.5 1546.7,1247.9 1544.7,1247.3 1542.7,1246.7 1540.7,1246.1 1538.7,1245.5 1536.7,1244.9 1534.7,1244.3 1532.7,1243.6 1530.8,1243.0 1528.8,1242.4 1526.8,1241.7 1524.8,1241.1 1522.8,1240.4 1520.8,1239.8 1518.8,1239.1 1516.8,1238.4 1514.8,1237.7 1512.8,1237.1 1510.8,1236.4 1508.8,1235.7 1506.8,1235.0 1504.8,1234.3 1502.8,1233.6 1500.8,1232.8 1498.8,1232.1 1496.9,1231.4 1494.9,1230.6 1492.9,1229.9 1490.9,1229.1 1488.9,1228.4 1486.9,1227.6 1484.9,1226.8 1482.9,1226.0 1480.9,1225.2 1478.9,1224.4 1476.9,1223.6 1474.9,1222.8 1473.0,1222.0 1471.0,1221.1 1469.0,1220.3 1467.0,1219.4 1465.0,1218.5 1463.0,1217.7 1461.0,1216.8 1459.0,1215.9 1457.0,1215.0 1455.0,1214.1 1453.1,1213.1 1451.1,1212.2 1449.1,1211.3 1447.1,1210.3 1445.1,1209.4 1443.1,1208.4 1441.1,1207.4 1439.1,1206.4 1437.1,1205.4 1435.1,1204.4 1433.1,1203.4 1431.1,1202.3 1429.1,1201.3 1427.2,1200.3 1425.2,1199.2 1423.2,1198.2 1421.2,1197.1 1419.2,1196.1 1417.2,1195.0 1415.2,1194.0 1413.2,1192.9 1411.2,1191.8 1409.1,1190.8 1407.1,1189.7 1405.1,1188.6 1403.1,1187.6 1401.1,1186.5 1399.1,1185.5 1397.1,1184.4 1395.1,1183.4 1393.1,1182.3 1391.1,1181.3 1389.1,1180.2 1387.1,1179.2 1385.1,1178.2 1383.0,1177.1 1381.0,1176.1 1379.0,1175.1 1377.0,1174.1 1375.0,1173.2 1373.0,1172.2 1371.0,1171.2 1369.0,1170.2 1366.9,1169.3 1364.9,1168.3 1362.9,1167.4 1360.9,1166.5 1358.9,1165.5 1356.9,1164.6 1354.9,1163.7 1352.9,1162.7 1350.9,1161.8 1348.9,1160.9 1346.9,1159.9 1344.9,1159.0 1342.9,1158.1 1340.9,1157.1 1338.9,1156.2 1336.9,1155.2 1334.9,1154.3 1332.9,1153.3 1330.9,1152.3 1328.9,1151.3 1326.9,1150.4 1325.0,1149.4 1323.0,1148.4 1321.0,1147.3 1319.0,1146.3 1317.0,1145.3 1315.0,1144.2 1313.0,1143.2 1311.0,1142.1 1309.1,1141.0 1307.1,1139.9 1305.1,1138.7 1303.1,1137.6 1301.1,1136.4 1299.1,1135.2 1297.1,1134.1 1295.2,1132.9 1293.2,1131.6 1291.2,1130.4 1289.2,1129.2 1287.2,1128.0 1285.2,1126.7 1283.2,1125.5 1281.2,1124.2 1279.2,1123.0 1277.2,1121.7 1275.2,1120.4 1273.2,1119.2 1271.2,1117.9 1269.2,1116.7 1267.2,1115.4 1265.2,1114.1 1263.1,1112.9 1261.1,1111.6 1259.1,1110.4 1257.1,1109.1 1255.1,1107.9 1253.1,1106.7 1251.1,1105.5 1249.1,1104.3 1247.0,1103.1 1245.0,1101.9 1243.0,1100.7 1241.0,1099.6 1239.0,1098.4 1236.9,1097.3 1234.9,1096.2 1232.9,1095.1 1230.9,1094.0 1228.9,1092.9 1226.9,1091.9 1224.9,1090.8 1222.9,1089.8 1220.9,1088.7 1218.9,1087.6 1216.9,1086.6 1214.9,1085.5 1212.9,1084.5 1210.9,1083.4 1208.9,1082.3 1206.9,1081.2 1204.9,1080.1 1202.9,1079.0 1200.9,1077.9 1199.0,1076.8 1197.0,1075.6 1195.0,1074.4 1193.0,1073.2 1191.0,1072.0 1189.1,1070.8 1187.1,1069.5 1185.1,1068.2 1183.1,1066.9 1181.2,1065.5 1179.2,1064.1 1177.2,1062.7 1175.3,1061.2 1173.3,1059.7 1171.3,1058.2 1169.4,1056.6 1167.4,1055.0 1165.4,1053.3 1163.4,1051.6 1161.5,1049.9 1159.5,1048.1 1157.5,1046.3 1155.5,1044.5 1153.5,1042.7 1151.5,1040.9 1149.5,1039.1 1147.5,1037.2 1145.5,1035.4 1143.5,1033.6 1141.4,1031.8 1139.4,1030.0 1137.4,1028.2 1135.4,1026.4 1133.4,1024.7 1131.3,1023.0 1129.3,1021.3 1127.3,1019.7 1125.2,1018.1 1123.2,1016.6 1121.1,1015.1 1119.1,1013.6 1117.0,1012.3 1115.0,1010.9 1112.9,1009.6 1110.9,1008.4 1108.8,1007.2 1106.8,1006.0 1104.7,1004.9 1102.7,1003.8 1100.6,1002.8 1098.6,1001.7 1096.6,1000.7 1094.5,999.8 1092.5,998.8 1090.5,997.9 1088.5,997.0 1086.4,996.1 1084.4,995.2 1082.4,994.3 1080.4,993.5 1078.4,992.6 1076.4,991.8 1074.4,990.9 1072.4,990.0 1070.4,989.2 1068.4,988.3 1066.4,987.4 1064.4,986.5 1062.5,985.6 1060.5,984.7 1058.5,983.8 1056.5,982.8 1054.5,981.9 1052.5,980.9 1050.5,979.9 1048.5,978.9 1046.6,977.9 1044.6,976.9 1042.6,975.9 1040.6,974.9 1038.6,973.8 1036.6,972.8 1034.6,971.7 1032.6,970.7 1030.6,969.6 1028.6,968.5 1026.6,967.4 1024.6,966.3 1022.6,965.2 1020.6,964.1 1018.6,963.0 1016.6,961.9 1014.6,960.8 1012.6,959.7 1010.7,958.5 1008.7,957.4 1006.7,956.2 1004.7,955.1 1002.7,953.9 1000.7,952.8 998.7,951.6 996.7,950.5 994.7,949.3 992.7,948.1 990.7,946.9 988.7,945.7 986.7,944.6 984.7,943.4 982.7,942.2 980.7,941.0 978.7,939.8 976.7,938.6 974.7,937.4 972.7,936.1 970.7,934.9 968.7,933.7 966.7,932.5 964.7,931.3 962.7,930.0 960.7,928.8 958.7,927.6 956.7,926.4 954.7,925.1 952.7,923.9 950.7,922.7 948.7,921.4 946.7,920.2 944.7,918.9 942.7,917.7 940.7,916.4 938.7,915.2 936.7,914.0 934.7,912.7 932.7,911.5 930.7,910.2 928.7,909.0" fill="#ff2020"/><circle cx="926.8" cy="911.9" r="3.50" fill="#ff2020"/><circle cx="2148.6" cy="968.2" r="3.50" fill="#ff2020"/>
<polyline points="2145.1,963.7 2148.6,968.3 2149.7,975 2149.7,982.1" fill="none" stroke="#ff2020" stroke-width="7" stroke-linecap="round" stroke-linejoin="round"/>
<polygon points="509.7,207.9 511.7,213.6 513.7,219.2 515.7,224.9 517.7,230.6 519.7,236.2 521.7,241.8 523.7,247.5 525.7,253.1 527.7,258.8 529.7,264.4 531.7,270.0 533.7,275.6 535.7,281.2 537.7,286.9 539.7,292.5 541.7,298.1 543.7,303.6 545.7,309.2 547.7,314.8 549.7,320.4 551.7,325.9 553.7,331.5 555.7,337.0 557.7,342.5 559.7,348.1 561.7,353.6 563.7,359.1 565.7,364.6 567.7,370.0 569.7,375.5 571.7,381.0 573.7,386.4 575.7,391.8 577.7,397.2 579.7,402.6 581.7,408.0 583.7,413.4 585.6,418.8 587.6,424.1 589.6,429.4 591.6,434.8 593.6,440.1 595.6,445.3 597.6,450.6 599.6,455.9 601.6,461.1 603.6,466.3 605.6,471.5 607.6,476.7 609.6,481.8 611.6,487.0 613.6,492.1 615.6,497.2 617.6,502.3 619.6,507.3 621.6,512.4 623.6,517.4 625.6,522.4 627.6,527.4 629.6,532.3 631.6,537.2 633.6,542.1 635.6,547.0 637.6,551.9 639.6,556.7 641.6,561.5 643.7,566.3 645.7,571.1 647.7,575.8 649.7,580.5 651.7,585.2 653.7,589.9 655.7,594.5 657.7,599.1 659.7,603.7 661.7,608.2 663.7,612.7 665.7,617.2 667.7,621.7 669.7,626.1 671.7,630.5 673.7,634.9 675.7,639.2 677.7,643.6 679.7,647.8 681.7,652.1 683.7,656.3 685.7,660.5 687.7,664.7 689.7,668.8 691.7,672.9 693.7,677.0 695.7,681.0 697.7,685.0 699.7,689.0 701.7,692.9 703.7,696.8 705.7,700.7 707.7,704.5 709.7,708.4 711.7,712.1 713.7,715.9 715.7,719.6 717.8,723.3 719.8,726.9 721.8,730.5 723.8,734.1 725.8,737.6 727.8,741.1 729.8,744.6 731.8,748.0 733.8,751.4 735.8,754.8 737.8,758.1 739.8,761.4 741.8,764.7 743.8,767.9 745.9,771.1 747.9,774.2 749.9,777.3 751.9,780.4 753.9,783.5 755.9,786.5 757.9,789.4 759.9,792.3 761.9,795.2 764.0,798.1 766.0,800.9 768.0,803.7 770.0,806.4 772.0,809.1 774.0,811.8 776.0,814.5 778.0,817.1 780.1,819.7 782.1,822.2 784.1,824.7 786.1,827.2 788.1,829.7 790.1,832.1 792.1,834.5 794.1,836.8 796.2,839.1 798.2,841.4 800.2,843.7 802.2,845.9 804.2,848.2 806.2,850.3 808.2,852.5 810.2,854.6 812.3,856.7 814.3,858.8 816.3,860.8 818.3,862.8 820.3,864.8 822.3,866.8 824.4,868.7 826.4,870.6 828.4,872.5 830.4,874.3 832.4,876.2 834.4,878.0 836.5,879.8 838.5,881.5 840.5,883.3 842.5,885.0 844.5,886.7 846.5,888.3 848.6,890.0 850.6,891.6 852.6,893.2 854.6,894.8 856.6,896.4 858.7,897.9 860.7,899.5 862.7,901.0 864.7,902.5 866.7,903.9 868.7,905.4 870.8,906.8 872.8,908.2 874.8,909.6 876.8,911.0 878.8,912.4 880.8,913.7 882.9,915.1 884.9,916.4 886.9,917.7 888.9,919.0 890.9,920.2 892.9,921.5 895.0,922.7 897.0,924.0 899.0,925.2 901.0,926.4 903.0,927.6 905.0,928.8 907.0,929.9 909.1,931.1 911.1,932.2 913.1,933.4 915.1,934.5 917.1,935.6 919.1,936.7 921.1,937.8 923.1,938.9 925.1,940.0 927.2,941.1 929.2,942.1 931.2,943.2 933.2,944.3 935.2,945.3 937.2,946.3 939.2,947.4 941.2,948.4 943.2,949.4 945.2,950.4 947.2,951.4 949.2,952.4 951.3,953.4 953.3,954.4 955.3,955.4 957.3,956.4 959.3,957.3 961.3,958.3 963.3,959.2 965.3,960.2 967.3,961.2 969.3,962.1 971.3,963.1 973.3,964.0 975.3,964.9 977.3,965.9 979.3,966.8 981.3,967.7 983.3,968.6 985.3,969.6 987.3,970.5 989.3,971.4 991.3,972.3 993.3,973.2 995.3,974.1 997.3,975.1 999.3,976.0 1001.3,976.9 1003.3,977.8 1005.3,978.7 1007.3,979.6 1009.3,980.5 1011.3,981.5 1013.3,982.4 1015.3,983.3 1017.3,984.2 1019.3,985.1 1021.3,986.0 1023.2,986.9 1025.2,987.8 1027.2,988.8 1029.2,989.7 1031.2,990.6 1033.2,991.5 1035.2,992.4 1037.2,993.4 1039.2,994.3 1041.2,995.2 1043.1,996.2 1045.1,997.1 1047.1,998.0 1049.1,999.0 1051.1,999.9 1053.1,1000.8 1055.1,1001.8 1057.0,1002.8 1059.0,1003.7 1061.0,1004.7 1063.0,1005.6 1065.0,1006.6 1067.0,1007.6 1068.9,1008.6 1070.9,1009.5 1072.9,1010.5 1074.9,1011.5 1076.9,1012.5 1078.8,1013.5 1080.8,1014.6 1082.8,1015.6 1084.8,1016.6 1086.8,1017.6 1088.7,1018.7 1090.7,1019.7 1092.7,1020.8 1094.7,1021.8 1096.7,1022.9 1098.6,1023.9 1100.6,1025.0 1102.6,1026.1 1104.6,1027.2 1106.6,1028.2 1108.6,1029.3 1110.5,1030.4 1112.5,1031.5 1114.5,1032.6 1116.5,1033.8 1118.5,1034.9 1120.5,1036.0 1122.5,1037.1 1124.5,1038.3 1126.4,1039.4 1128.4,1040.5 1130.4,1041.7 1132.4,1042.8 1134.4,1044.0 1136.4,1045.2 1138.4,1046.3 1140.4,1047.5 1142.3,1048.7 1144.3,1049.8 1146.3,1051.0 1148.3,1052.2 1150.3,1053.4 1152.3,1054.6 1154.3,1055.8 1156.3,1057.0 1158.3,1058.2 1160.2,1059.4 1162.2,1060.6 1164.2,1061.8 1166.2,1063.0 1168.2,1064.2 1170.2,1065.5 1172.2,1066.7 1174.2,1067.9 1176.2,1069.1 1178.2,1070.4 1180.2,1071.6 1182.2,1072.8 1184.2,1074.1 1186.1,1075.3 1188.1,1076.5 1190.1,1077.8 1192.1,1079.0 1194.1,1080.3 1196.1,1081.5 1198.1,1082.7 1200.1,1084.0 1202.1,1085.2 1204.1,1086.5 1206.1,1087.7 1208.1,1089.0 1210.1,1090.2 1212.1,1091.5 1214.1,1092.7 1216.1,1094.0 1218.1,1095.2 1220.1,1096.5 1222.1,1097.7 1224.0,1099.0 1226.0,1100.2 1228.0,1101.5 1230.0,1102.7 1232.0,1104.0 1234.0,1105.2 1236.0,1106.5 1238.0,1107.7 1240.0,1109.0 1242.0,1110.2 1244.0,1111.5 1246.0,1112.7 1248.0,1114.0 1250.0,1115.2 1252.0,1116.4 1254.0,1117.7 1256.0,1118.9 1258.1,1120.1 1260.1,1121.3 1262.1,1122.6 1264.1,1123.8 1266.1,1125.0 1268.1,1126.2 1270.1,1127.4 1272.1,1128.6 1274.1,1129.9 1276.1,1131.1 1278.1,1132.3 1280.1,1133.5 1282.1,1134.7 1284.1,1135.9 1286.1,1137.0 1288.1,1138.2 1290.1,1139.4 1292.2,1140.6 1294.2,1141.8 1296.2,1142.9 1298.2,1144.1 1300.2,1145.3 1302.2,1146.4 1304.2,1147.6 1306.2,1148.8 1308.2,1149.9 1310.2,1151.1 1312.2,1152.2 1314.2,1153.4 1316.2,1154.5 1318.3,1155.6 1320.3,1156.8 1322.3,1157.9 1324.3,1159.0 1326.3,1160.1 1328.3,1161.3 1330.3,1162.4 1332.3,1163.5 1334.3,1164.6 1336.3,1165.7 1338.3,1166.8 1340.3,1167.9 1342.4,1169.0 1344.4,1170.1 1346.4,1171.2 1348.4,1172.2 1350.4,1173.3 1352.4,1174.4 1354.4,1175.5 1356.4,1176.5 1358.4,1177.6 1360.4,1178.6 1362.4,1179.7 1364.5,1180.8 1366.5,1181.8 1368.5,1182.8 1370.5,1183.9 1372.5,1184.9 1374.5,1186.0 1376.5,1187.0 1378.5,1188.0 1380.5,1189.0 1382.5,1190.0 1384.5,1191.1 1386.6,1192.1 1388.6,1193.1 1390.6,1194.1 1392.6,1195.1 1394.6,1196.1 1396.6,1197.0 1398.6,1198.0 1400.6,1199.0 1402.6,1200.0 1404.6,1201.0 1406.6,1202.0 1408.7,1202.9 1410.7,1203.9 1412.7,1204.8 1414.7,1205.8 1416.7,1206.8 1418.7,1207.7 1420.7,1208.7 1422.7,1209.6 1424.7,1210.5 1426.7,1211.5 1428.7,1212.4 1430.8,1213.3 1432.8,1214.2 1434.8,1215.1 1436.8,1216.1 1438.8,1217.0 1440.8,1217.9 1442.8,1218.8 1444.8,1219.7 1446.8,1220.5 1448.8,1221.4 1450.8,1222.3 1452.9,1223.2 1454.9,1224.1 1456.9,1224.9 1458.9,1225.8 1460.9,1226.6 1462.9,1227.5 1464.9,1228.3 1466.9,1229.2 1468.9,1230.0 1471.0,1230.9 1473.0,1231.7 1475.0,1232.5 1477.0,1233.3 1479.0,1234.2 1481.0,1235.0 1483.0,1235.8 1485.0,1236.6 1487.0,1237.4 1489.1,1238.2 1491.1,1239.0 1493.1,1239.7 1495.1,1240.5 1497.1,1241.3 1499.1,1242.1 1501.1,1242.8 1503.1,1243.6 1505.2,1244.3 1507.2,1245.1 1509.2,1245.8 1511.2,1246.6 1513.2,1247.3 1515.2,1248.0 1517.2,1248.8 1519.3,1249.5 1521.3,1250.2 1523.3,1250.9 1525.3,1251.6 1527.3,1252.3 1529.3,1253.0 1531.3,1253.7 1533.4,1254.4 1535.4,1255.1 1537.4,1255.8 1539.4,1256.4 1541.4,1257.1 1543.4,1257.7 1545.4,1258.4 1547.5,1259.1 1549.5,1259.7 1551.5,1260.4 1553.5,1261.0 1555.5,1261.6 1557.5,1262.3 1559.5,1262.9 1561.6,1263.5 1563.6,1264.2 1565.6,1264.8 1567.6,1265.4 1569.6,1266.0 1571.6,1266.6 1573.6,1267.2 1575.7,1267.8 1577.7,1268.4 1579.7,1268.9 1581.7,1269.5 1583.7,1270.1 1585.7,1270.6 1587.7,1271.2 1589.8,1271.7 1591.8,1272.3 1593.8,1272.8 1595.8,1273.4 1597.8,1273.9 1599.8,1274.4 1601.9,1274.9 1603.9,1275.4 1605.9,1276.0 1607.9,1276.5 1609.9,1276.9 1612.0,1277.4 1614.0,1277.9 1616.0,1278.4 1618.0,1278.9 1620.0,1279.4 1622.0,1279.8 1624.1,1280.3 1626.1,1280.8 1628.1,1281.2 1630.1,1281.7 1632.1,1282.1 1634.1,1282.6 1636.2,1283.0 1638.2,1283.4 1640.2,1283.8 1642.2,1284.3 1644.2,1284.7 1646.3,1285.1 1648.3,1285.5 1650.3,1285.9 1652.3,1286.3 1654.3,1286.6 1656.4,1287.0 1658.4,1287.4 1660.4,1287.7 1662.4,1288.1 1664.5,1288.5 1666.5,1288.8 1668.5,1289.1 1670.5,1289.5 1672.6,1289.8 1674.6,1290.1 1676.6,1290.4 1678.6,1290.7 1680.7,1291.0 1682.7,1291.3 1684.7,1291.6 1686.7,1291.8 1688.8,1292.1 1690.8,1292.3 1692.8,1292.6 1694.9,1292.8 1696.9,1293.0 1698.9,1293.3 1700.9,1293.5 1703.0,1293.7 1705.0,1293.9 1707.0,1294.1 1709.1,1294.3 1711.1,1294.5 1713.1,1294.6 1715.2,1294.8 1717.2,1295.0 1719.2,1295.1 1721.3,1295.3 1723.3,1295.4 1725.3,1295.6 1727.4,1295.7 1729.4,1295.8 1731.4,1295.9 1733.4,1296.1 1735.5,1296.2 1737.5,1296.3 1739.5,1296.4 1741.6,1296.5 1743.6,1296.5 1745.6,1296.6 1747.7,1296.7 1749.7,1296.7 1751.7,1296.8 1753.8,1296.8 1755.8,1296.9 1757.8,1296.9 1759.9,1296.9 1761.9,1297.0 1763.9,1297.0 1766.0,1297.0 1768.0,1297.0 1770.0,1297.0 1772.1,1297.0 1774.1,1297.0 1776.1,1296.9 1778.2,1296.9 1780.2,1296.9 1782.3,1296.8 1784.3,1296.8 1786.3,1296.7 1788.4,1296.6 1790.4,1296.6 1792.4,1296.5 1794.5,1296.4 1796.5,1296.3 1798.5,1296.2 1800.6,1296.1 1802.6,1296.0 1804.6,1295.8 1806.7,1295.7 1808.7,1295.6 1810.8,1295.4 1812.8,1295.3 1811.2,1275.4 1809.2,1275.6 1807.3,1275.7 1805.3,1275.9 1803.3,1276.0 1801.4,1276.1 1799.4,1276.3 1797.4,1276.4 1795.5,1276.5 1793.5,1276.6 1791.5,1276.7 1789.6,1276.8 1787.6,1276.9 1785.6,1276.9 1783.7,1277.0 1781.7,1277.1 1779.7,1277.1 1777.8,1277.2 1775.8,1277.2 1773.8,1277.3 1771.9,1277.3 1769.9,1277.3 1767.9,1277.4 1766.0,1277.4 1764.0,1277.4 1762.0,1277.4 1760.0,1277.4 1758.1,1277.4 1756.1,1277.3 1754.1,1277.3 1752.2,1277.3 1750.2,1277.2 1748.2,1277.2 1746.3,1277.1 1744.3,1277.1 1742.3,1277.0 1740.3,1277.0 1738.4,1276.9 1736.4,1276.8 1734.4,1276.7 1732.5,1276.6 1730.5,1276.5 1728.5,1276.4 1726.5,1276.3 1724.6,1276.2 1722.6,1276.0 1720.6,1275.9 1718.7,1275.8 1716.7,1275.6 1714.7,1275.5 1712.7,1275.3 1710.8,1275.1 1708.8,1275.0 1706.8,1274.8 1704.9,1274.6 1702.9,1274.4 1700.9,1274.2 1698.9,1274.0 1697.0,1273.8 1695.0,1273.6 1693.0,1273.4 1691.0,1273.1 1689.1,1272.9 1687.1,1272.7 1685.1,1272.4 1683.1,1272.2 1681.2,1271.9 1679.2,1271.7 1677.2,1271.4 1675.2,1271.2 1673.3,1270.9 1671.3,1270.7 1669.3,1270.4 1667.3,1270.1 1665.3,1269.9 1663.4,1269.6 1661.4,1269.3 1659.4,1269.0 1657.4,1268.7 1655.4,1268.4 1653.4,1268.1 1651.5,1267.8 1649.5,1267.4 1647.5,1267.1 1645.5,1266.8 1643.5,1266.4 1641.5,1266.1 1639.6,1265.7 1637.6,1265.4 1635.6,1265.0 1633.6,1264.6 1631.6,1264.3 1629.6,1263.9 1627.7,1263.5 1625.7,1263.1 1623.7,1262.7 1621.7,1262.3 1619.7,1261.9 1617.7,1261.4 1615.7,1261.0 1613.8,1260.6 1611.8,1260.1 1609.8,1259.7 1607.8,1259.2 1605.8,1258.8 1603.8,1258.3 1601.8,1257.8 1599.9,1257.3 1597.9,1256.9 1595.9,1256.4 1593.9,1255.9 1591.9,1255.4 1589.9,1254.9 1587.9,1254.4 1586.0,1253.8 1584.0,1253.3 1582.0,1252.8 1580.0,1252.3 1578.0,1251.7 1576.0,1251.2 1574.0,1250.6 1572.0,1250.1 1570.0,1249.5 1568.1,1249.0 1566.1,1248.4 1564.1,1247.8 1562.1,1247.3 1560.1,1246.7 1558.1,1246.1 1556.1,1245.5 1554.1,1244.9 1552.1,1244.3 1550.1,1243.7 1548.2,1243.0 1546.2,1242.4 1544.2,1241.8 1542.2,1241.1 1540.2,1240.5 1538.2,1239.8 1536.2,1239.2 1534.2,1238.5 1532.3,1237.8 1530.3,1237.2 1528.3,1236.5 1526.3,1235.8 1524.3,1235.1 1522.3,1234.4 1520.3,1233.7 1518.3,1233.0 1516.3,1232.3 1514.4,1231.6 1512.4,1230.9 1510.4,1230.2 1508.4,1229.5 1506.4,1228.7 1504.4,1228.0 1502.4,1227.3 1500.4,1226.5 1498.4,1225.8 1496.4,1225.0 1494.4,1224.3 1492.5,1223.5 1490.5,1222.7 1488.5,1222.0 1486.5,1221.2 1484.5,1220.4 1482.5,1219.6 1480.5,1218.8 1478.5,1218.0 1476.5,1217.2 1474.5,1216.4 1472.5,1215.6 1470.6,1214.8 1468.6,1214.0 1466.6,1213.1 1464.6,1212.3 1462.6,1211.5 1460.6,1210.6 1458.6,1209.8 1456.6,1209.0 1454.6,1208.1 1452.6,1207.3 1450.6,1206.4 1448.6,1205.5 1446.6,1204.7 1444.6,1203.8 1442.6,1202.9 1440.7,1202.0 1438.7,1201.1 1436.7,1200.3 1434.7,1199.4 1432.7,1198.5 1430.7,1197.6 1428.7,1196.6 1426.7,1195.7 1424.7,1194.8 1422.7,1193.9 1420.7,1193.0 1418.7,1192.0 1416.7,1191.1 1414.7,1190.2 1412.7,1189.2 1410.7,1188.3 1408.7,1187.3 1406.7,1186.4 1404.8,1185.4 1402.8,1184.5 1400.8,1183.5 1398.8,1182.5 1396.8,1181.5 1394.8,1180.6 1392.8,1179.6 1390.8,1178.6 1388.8,1177.6 1386.8,1176.6 1384.8,1175.6 1382.8,1174.6 1380.8,1173.5 1378.8,1172.5 1376.8,1171.5 1374.9,1170.5 1372.9,1169.5 1370.9,1168.4 1368.9,1167.4 1366.9,1166.4 1364.9,1165.3 1362.9,1164.3 1360.9,1163.2 1358.9,1162.2 1356.9,1161.1 1354.9,1160.0 1352.9,1159.0 1350.9,1157.9 1348.9,1156.8 1346.9,1155.7 1344.9,1154.7 1342.9,1153.6 1341.0,1152.5 1339.0,1151.4 1337.0,1150.3 1335.0,1149.2 1333.0,1148.1 1331.0,1147.0 1329.0,1145.9 1327.0,1144.8 1325.0,1143.7 1323.0,1142.5 1321.0,1141.4 1319.0,1140.3 1317.0,1139.1 1315.0,1138.0 1313.0,1136.9 1311.0,1135.7 1309.0,1134.6 1307.0,1133.4 1305.0,1132.3 1303.0,1131.1 1301.0,1130.0 1299.1,1128.8 1297.1,1127.6 1295.1,1126.5 1293.1,1125.3 1291.1,1124.1 1289.1,1122.9 1287.1,1121.8 1285.1,1120.6 1283.1,1119.4 1281.1,1118.2 1279.1,1117.0 1277.1,1115.8 1275.1,1114.6 1273.1,1113.4 1271.1,1112.2 1269.1,1111.0 1267.1,1109.8 1265.1,1108.6 1263.1,1107.3 1261.1,1106.1 1259.1,1104.9 1257.1,1103.7 1255.1,1102.5 1253.1,1101.2 1251.1,1100.0 1249.1,1098.8 1247.1,1097.6 1245.1,1096.3 1243.1,1095.1 1241.1,1093.9 1239.1,1092.6 1237.1,1091.4 1235.1,1090.2 1233.1,1089.0 1231.1,1087.7 1229.0,1086.5 1227.0,1085.3 1225.0,1084.0 1223.0,1082.8 1221.0,1081.5 1219.0,1080.3 1217.0,1079.1 1215.0,1077.8 1213.0,1076.6 1211.0,1075.4 1209.0,1074.1 1207.0,1072.9 1205.0,1071.7 1202.9,1070.5 1200.9,1069.2 1198.9,1068.0 1196.9,1066.8 1194.9,1065.5 1192.9,1064.3 1190.9,1063.1 1188.9,1061.9 1186.9,1060.6 1184.9,1059.4 1182.8,1058.2 1180.8,1057.0 1178.8,1055.8 1176.8,1054.6 1174.8,1053.4 1172.8,1052.2 1170.8,1051.0 1168.8,1049.8 1166.8,1048.6 1164.7,1047.4 1162.7,1046.2 1160.7,1045.0 1158.7,1043.8 1156.7,1042.6 1154.7,1041.4 1152.7,1040.3 1150.6,1039.1 1148.6,1037.9 1146.6,1036.8 1144.6,1035.6 1142.6,1034.4 1140.6,1033.3 1138.6,1032.1 1136.5,1031.0 1134.5,1029.8 1132.5,1028.7 1130.5,1027.6 1128.5,1026.4 1126.5,1025.3 1124.4,1024.2 1122.4,1023.1 1120.4,1022.0 1118.4,1020.9 1116.4,1019.8 1114.4,1018.7 1112.3,1017.6 1110.3,1016.5 1108.3,1015.5 1106.3,1014.4 1104.3,1013.3 1102.2,1012.3 1100.2,1011.2 1098.2,1010.2 1096.2,1009.2 1094.2,1008.1 1092.1,1007.1 1090.1,1006.1 1088.1,1005.1 1086.1,1004.1 1084.0,1003.1 1082.0,1002.1 1080.0,1001.2 1078.0,1000.2 1075.9,999.2 1073.9,998.3 1071.9,997.3 1069.9,996.4 1067.9,995.4 1065.8,994.5 1063.8,993.6 1061.8,992.6 1059.8,991.7 1057.8,990.8 1055.7,989.9 1053.7,989.0 1051.7,988.0 1049.7,987.1 1047.7,986.2 1045.7,985.3 1043.7,984.4 1041.6,983.5 1039.6,982.6 1037.6,981.8 1035.6,980.9 1033.6,980.0 1031.6,979.1 1029.6,978.2 1027.5,977.3 1025.5,976.5 1023.5,975.6 1021.5,974.7 1019.5,973.8 1017.5,973.0 1015.5,972.1 1013.5,971.2 1011.5,970.3 1009.5,969.4 1007.4,968.6 1005.4,967.7 1003.4,966.8 1001.4,965.9 999.4,965.0 997.4,964.2 995.4,963.3 993.4,962.4 991.4,961.5 989.4,960.6 987.4,959.7 985.4,958.8 983.4,957.9 981.4,957.0 979.4,956.1 977.4,955.1 975.4,954.2 973.4,953.3 971.4,952.4 969.4,951.5 967.4,950.5 965.4,949.6 963.4,948.6 961.4,947.7 959.4,946.8 957.4,945.8 955.4,944.8 953.4,943.9 951.4,942.9 949.4,941.9 947.4,940.9 945.4,940.0 943.5,939.0 941.5,938.0 939.5,937.0 937.5,935.9 935.5,934.9 933.5,933.9 931.5,932.9 929.5,931.8 927.5,930.8 925.5,929.7 923.5,928.6 921.5,927.6 919.5,926.5 917.5,925.4 915.5,924.3 913.6,923.2 911.6,922.1 909.6,920.9 907.6,919.8 905.6,918.6 903.6,917.4 901.6,916.3 899.6,915.1 897.6,913.9 895.7,912.6 893.7,911.4 891.7,910.2 889.7,908.9 887.7,907.6 885.7,906.3 883.7,905.0 881.8,903.7 879.8,902.4 877.8,901.0 875.8,899.6 873.8,898.2 871.8,896.8 869.8,895.4 867.9,894.0 865.9,892.5 863.9,891.0 861.9,889.5 859.9,888.0 857.9,886.4 855.9,884.9 854.0,883.3 852.0,881.7 850.0,880.1 848.0,878.4 846.0,876.8 844.0,875.1 842.0,873.4 840.1,871.6 838.1,869.9 836.1,868.1 834.1,866.3 832.1,864.4 830.1,862.6 828.1,860.7 826.2,858.8 824.2,856.9 822.2,854.9 820.2,852.9 818.2,850.9 816.2,848.9 814.2,846.8 812.2,844.7 810.2,842.6 808.3,840.4 806.3,838.2 804.3,836.0 802.3,833.8 800.3,831.5 798.3,829.2 796.3,826.9 794.3,824.5 792.3,822.1 790.3,819.7 788.4,817.2 786.4,814.7 784.4,812.2 782.4,809.6 780.4,807.0 778.4,804.4 776.4,801.7 774.4,799.0 772.4,796.3 770.4,793.5 768.4,790.7 766.5,787.8 764.5,784.9 762.5,782.0 760.5,779.1 758.5,776.1 756.5,773.0 754.5,770.0 752.5,766.9 750.5,763.7 748.5,760.5 746.5,757.3 744.5,754.0 742.5,750.8 740.5,747.4 738.5,744.1 736.5,740.7 734.6,737.2 732.6,733.8 730.6,730.2 728.6,726.7 726.6,723.1 724.6,719.5 722.6,715.9 720.6,712.2 718.6,708.5 716.6,704.7 714.6,700.9 712.6,697.1 710.6,693.3 708.6,689.4 706.6,685.5 704.6,681.5 702.6,677.6 700.6,673.6 698.6,669.5 696.6,665.4 694.6,661.3 692.6,657.2 690.6,653.0 688.6,648.8 686.6,644.6 684.6,640.3 682.6,636.0 680.6,631.7 678.6,627.4 676.6,623.0 674.6,618.6 672.6,614.1 670.6,609.7 668.6,605.2 666.6,600.6 664.6,596.1 662.6,591.5 660.6,586.9 658.6,582.2 656.6,577.6 654.6,572.9 652.6,568.2 650.6,563.4 648.6,558.6 646.6,553.9 644.5,549.0 642.5,544.2 640.5,539.3 638.5,534.4 636.5,529.5 634.5,524.6 632.5,519.6 630.5,514.6 628.5,509.6 626.5,504.6 624.5,499.6 622.5,494.5 620.5,489.4 618.5,484.3 616.5,479.2 614.5,474.0 612.5,468.8 610.5,463.7 608.5,458.5 606.5,453.2 604.5,448.0 602.5,442.7 600.5,437.5 598.5,432.2 596.5,426.9 594.5,421.6 592.5,416.2 590.5,410.9 588.5,405.5 586.5,400.1 584.5,394.7 582.4,389.3 580.4,383.9 578.4,378.5 576.4,373.0 574.4,367.6 572.4,362.1 570.4,356.6 568.4,351.1 566.4,345.6 564.4,340.1 562.4,334.6 560.4,329.0 558.4,323.5 556.4,317.9 554.4,312.4 552.4,306.8 550.4,301.2 548.4,295.7 546.4,290.1 544.4,284.5 542.4,278.9 540.4,273.3 538.4,267.6 536.3,262.0 534.3,256.4 532.3,250.8 530.3,245.1 528.3,239.5 526.3,233.8 524.3,228.2 522.3,222.6 520.3,216.9 518.3,211.3 516.3,205.6" fill="#0066e0"/><circle cx="513.0" cy="206.8" r="3.50" fill="#0066e0"/><circle cx="1812.0" cy="1285.3" r="9.97" fill="#0066e0"/>
<polygon points="1800,1274 1808,1270 1814.3,1266.5 1818.5,1269 1821.2,1274 1821.2,1299 1816,1303 1812,1311.5 1808,1308 1806,1300 1800,1298" fill="#0066e0"/>
<polygon points="508.7,209.6 510.7,216.8 512.7,223.8 514.7,230.5 516.8,237.0 518.8,243.3 520.8,249.4 522.8,255.3 524.8,261.0 526.8,266.6 528.8,272.1 530.8,277.4 532.8,282.7 534.8,287.9 536.8,293.1 538.8,298.2 540.8,303.3 542.8,308.5 544.8,313.6 546.8,318.8 548.8,324.1 550.8,329.4 552.8,334.8 554.8,340.3 556.8,345.8 558.8,351.4 560.8,357.0 562.8,362.6 564.8,368.2 566.8,373.8 568.8,379.5 570.8,385.1 572.8,390.7 574.8,396.3 576.8,401.9 578.8,407.4 580.8,412.9 582.8,418.3 584.8,423.7 586.8,429.0 588.8,434.2 590.8,439.3 592.8,444.3 594.8,449.2 596.8,454.1 598.8,458.8 600.9,463.3 602.9,467.8 604.9,472.2 606.9,476.5 608.9,480.8 610.9,485.1 612.9,489.4 614.9,493.9 616.8,498.4 618.8,503.0 620.8,507.8 622.8,512.8 624.8,518.0 626.8,523.3 628.8,528.7 630.7,534.2 632.7,539.7 634.8,545.1 636.8,550.5 638.8,555.7 640.8,560.7 642.8,565.5 644.9,570.0 646.9,574.2 649.0,578.0 651.1,581.5 653.2,584.6 655.3,587.3 657.4,589.9 659.4,592.2 661.4,594.6 663.3,596.9 665.2,599.4 667.1,602.1 669.0,605.2 670.9,608.7 672.8,612.5 674.8,616.6 676.8,620.9 678.8,625.2 680.8,629.6 682.8,633.8 684.8,638.0 686.8,642.0 688.8,645.9 690.9,649.5 692.9,653.1 694.9,656.5 696.9,659.8 699.0,663.0 701.0,666.1 703.0,669.2 705.0,672.2 707.0,675.2 709.0,678.2 711.0,681.1 713.0,684.0 715.0,686.8 717.1,689.6 719.1,692.4 721.1,695.1 723.1,697.8 725.1,700.4 727.1,703.0 729.1,705.6 731.2,708.1 733.2,710.5 735.2,712.9 737.2,715.3 739.3,717.6 741.3,719.8 743.3,722.0 745.4,724.2 747.4,726.3 749.4,728.3 751.5,730.3 753.5,732.3 755.6,734.1 757.6,736.0 759.7,737.7 761.7,739.4 763.8,741.1 765.8,742.6 767.9,744.2 770.0,745.6 772.0,747.0 774.1,748.4 776.2,749.7 778.2,751.0 780.3,752.2 782.4,753.3 784.5,754.4 786.5,755.4 788.6,756.4 790.7,757.4 792.8,758.3 794.8,759.1 796.9,760.0 799.0,760.7 801.1,761.4 803.1,762.1 805.2,762.8 807.3,763.4 809.4,763.9 811.4,764.5 813.5,764.9 815.6,765.4 817.6,765.8 819.7,766.2 821.8,766.5 823.8,766.9 825.9,767.1 828.0,767.4 830.0,767.6 832.1,767.8 834.1,768.0 836.2,768.1 838.3,768.3 840.3,768.4 842.4,768.4 844.4,768.5 846.4,768.5 848.5,768.5 850.5,768.5 852.6,768.5 854.6,768.5 856.7,768.4 858.7,768.3 860.8,768.2 862.8,768.1 864.9,767.9 866.9,767.8 868.9,767.6 871.0,767.4 873.0,767.1 875.1,766.9 877.1,766.6 879.2,766.3 881.2,766.0 883.3,765.7 885.3,765.4 887.3,765.0 889.4,764.6 891.4,764.2 893.5,763.8 895.5,763.4 897.6,762.9 899.6,762.5 901.6,762.0 903.7,761.5 905.7,760.9 907.7,760.4 909.8,759.8 911.8,759.2 913.9,758.6 915.9,758.0 917.9,757.4 920.0,756.7 922.0,756.0 924.0,755.4 926.1,754.7 928.1,753.9 930.2,753.2 932.2,752.4 934.2,751.7 936.2,750.9 938.3,750.1 940.3,749.2 942.3,748.4 944.4,747.6 946.4,746.7 948.4,745.8 950.4,745.0 952.4,744.1 954.5,743.2 956.5,742.3 958.5,741.4 960.5,740.5 962.5,739.6 964.5,738.6 966.5,737.7 968.5,736.8 970.6,735.8 972.6,734.9 974.6,734.0 976.6,733.0 978.6,732.1 980.6,731.1 982.6,730.2 984.6,729.3 986.6,728.3 988.6,727.4 990.6,726.5 992.6,725.5 994.6,724.6 996.6,723.7 998.5,722.8 1000.5,721.9 1002.5,721.0 1004.5,720.1 1006.5,719.3 1008.5,718.4 1010.5,717.5 1012.5,716.7 1014.5,715.8 1016.5,715.0 1018.4,714.2 1020.4,713.3 1022.4,712.5 1024.4,711.7 1026.4,710.9 1028.4,710.1 1030.4,709.4 1032.3,708.6 1034.3,707.8 1036.3,707.1 1038.3,706.4 1040.3,705.7 1042.3,704.9 1044.2,704.2 1046.2,703.6 1048.2,702.9 1050.2,702.2 1052.2,701.6 1054.1,700.9 1056.1,700.3 1058.1,699.7 1060.1,699.1 1062.0,698.5 1064.0,697.9 1066.0,697.3 1068.0,696.8 1069.9,696.3 1071.9,695.7 1073.9,695.2 1075.9,694.7 1077.8,694.3 1079.8,693.8 1081.8,693.3 1083.7,692.9 1085.7,692.5 1087.7,692.1 1089.6,691.7 1091.6,691.3 1093.6,691.0 1095.5,690.6 1097.5,690.3 1099.5,690.0 1101.4,689.7 1103.4,689.5 1105.4,689.2 1107.3,689.0 1109.3,688.7 1111.3,688.6 1113.2,688.4 1115.2,688.2 1117.1,688.1 1119.1,687.9 1121.0,687.8 1123.0,687.7 1125.0,687.7 1126.9,687.6 1128.9,687.6 1130.8,687.6 1132.8,687.6 1134.7,687.6 1136.7,687.7 1138.6,687.7 1140.6,687.8 1142.5,688.0 1144.5,688.1 1146.4,688.2 1148.4,688.4 1150.3,688.6 1152.3,688.8 1154.2,689.1 1156.2,689.4 1158.1,689.6 1160.1,690.0 1162.0,690.3 1164.0,690.6 1165.9,691.0 1167.9,691.4 1169.8,691.9 1171.8,692.3 1173.7,692.8 1175.7,693.3 1177.6,693.8 1179.6,694.4 1181.5,694.9 1183.5,695.5 1185.5,696.2 1187.4,696.8 1189.4,697.5 1191.3,698.1 1193.3,698.8 1195.3,699.6 1197.2,700.3 1199.2,701.1 1201.2,701.9 1203.1,702.7 1205.1,703.5 1207.1,704.3 1209.0,705.2 1211.0,706.0 1213.0,706.9 1215.0,707.8 1216.9,708.7 1218.9,709.6 1220.9,710.6 1222.9,711.5 1224.9,712.5 1226.8,713.5 1228.8,714.5 1230.8,715.5 1232.8,716.5 1234.8,717.5 1236.8,718.6 1238.7,719.6 1240.7,720.7 1242.7,721.7 1244.7,722.8 1246.7,723.9 1248.7,725.0 1250.7,726.1 1252.7,727.2 1254.7,728.3 1256.7,729.4 1258.7,730.5 1260.7,731.7 1262.6,732.8 1264.6,733.9 1266.6,735.1 1268.6,736.2 1270.6,737.4 1272.6,738.5 1274.6,739.7 1276.6,740.9 1278.6,742.0 1280.6,743.2 1282.6,744.4 1284.6,745.6 1286.6,746.8 1288.6,748.0 1290.6,749.2 1292.6,750.4 1294.5,751.6 1296.5,752.8 1298.5,754.0 1300.5,755.3 1302.5,756.5 1304.5,757.8 1306.5,759.0 1308.5,760.3 1310.5,761.5 1312.5,762.8 1314.4,764.1 1316.4,765.4 1318.4,766.6 1320.4,767.9 1322.4,769.2 1324.4,770.5 1326.4,771.8 1328.4,773.1 1330.4,774.4 1332.4,775.8 1334.3,777.1 1336.3,778.4 1338.3,779.7 1340.3,781.1 1342.3,782.4 1344.3,783.8 1346.3,785.1 1348.3,786.5 1350.3,787.9 1352.2,789.2 1354.2,790.6 1356.2,792.0 1358.2,793.4 1360.2,794.8 1362.2,796.2 1364.2,797.6 1366.2,799.0 1368.2,800.4 1370.1,801.8 1372.1,803.2 1374.1,804.7 1376.1,806.1 1378.1,807.5 1380.1,809.0 1382.1,810.4 1384.1,811.9 1386.1,813.4 1388.0,814.8 1390.0,816.3 1392.0,817.8 1394.0,819.3 1396.0,820.8 1398.0,822.3 1400.0,823.8 1402.0,825.3 1403.9,826.8 1405.9,828.4 1407.9,829.9 1409.9,831.4 1411.9,833.0 1413.9,834.5 1415.9,836.1 1417.9,837.7 1419.8,839.2 1421.8,840.8 1423.8,842.4 1425.8,844.0 1427.8,845.6 1429.8,847.2 1431.8,848.8 1433.8,850.4 1435.7,852.0 1437.7,853.7 1439.7,855.3 1441.7,856.9 1443.7,858.6 1445.7,860.3 1447.7,861.9 1449.7,863.6 1451.6,865.3 1453.6,867.0 1455.6,868.7 1457.6,870.4 1459.6,872.1 1461.6,873.8 1463.6,875.5 1465.6,877.2 1467.5,879.0 1469.5,880.7 1471.5,882.5 1473.5,884.2 1475.5,886.0 1477.5,887.8 1479.5,889.6 1481.5,891.3 1483.4,893.1 1485.4,894.9 1487.4,896.8 1489.4,898.6 1491.4,900.4 1493.4,902.2 1495.4,904.0 1497.4,905.9 1499.3,907.7 1501.3,909.6 1503.3,911.4 1505.3,913.3 1507.3,915.2 1509.3,917.1 1511.3,919.0 1513.3,920.8 1515.3,922.7 1517.2,924.6 1519.2,926.5 1521.2,928.5 1523.2,930.4 1525.2,932.3 1527.2,934.2 1529.2,936.2 1531.2,938.1 1533.2,940.1 1535.1,942.0 1537.1,944.0 1539.1,945.9 1541.1,947.9 1543.1,949.9 1545.1,951.9 1547.1,953.9 1549.1,955.8 1551.1,957.8 1553.1,959.8 1555.0,961.8 1557.0,963.9 1559.0,965.9 1561.0,967.9 1563.0,969.9 1565.0,972.0 1567.0,974.0 1569.0,976.0 1571.0,978.1 1573.0,980.1 1574.9,982.2 1576.9,984.2 1578.9,986.3 1580.9,988.4 1582.9,990.4 1584.9,992.5 1586.9,994.6 1588.9,996.7 1590.9,998.7 1592.9,1000.8 1594.9,1002.9 1596.8,1005.0 1598.8,1007.1 1600.8,1009.2 1602.8,1011.3 1604.8,1013.5 1606.8,1015.6 1608.8,1017.7 1610.8,1019.8 1612.8,1021.9 1614.8,1024.1 1616.8,1026.2 1618.8,1028.3 1620.8,1030.4 1622.8,1032.6 1624.7,1034.7 1626.7,1036.8 1628.7,1039.0 1630.7,1041.1 1632.7,1043.2 1634.7,1045.4 1636.7,1047.5 1638.7,1049.6 1640.7,1051.7 1642.7,1053.9 1644.7,1056.0 1646.7,1058.1 1648.7,1060.2 1650.7,1062.3 1652.7,1064.4 1654.7,1066.5 1656.7,1068.6 1658.7,1070.7 1660.7,1072.8 1662.7,1074.9 1664.7,1077.0 1666.7,1079.1 1668.7,1081.2 1670.7,1083.2 1672.7,1085.3 1674.7,1087.3 1676.7,1089.4 1678.7,1091.4 1680.7,1093.4 1682.7,1095.5 1684.7,1097.5 1686.8,1099.5 1688.8,1101.5 1690.8,1103.5 1692.8,1105.4 1694.8,1107.4 1696.8,1109.4 1698.7,1111.4 1700.7,1113.4 1702.7,1115.3 1704.7,1117.3 1706.7,1119.2 1708.6,1121.2 1710.6,1123.1 1712.6,1125.0 1714.6,1126.9 1716.6,1128.8 1718.5,1130.6 1720.5,1132.5 1722.5,1134.3 1724.5,1136.2 1726.5,1138.0 1728.5,1139.8 1730.5,1141.6 1732.5,1143.4 1734.5,1145.1 1736.4,1146.9 1738.4,1148.6 1740.4,1150.3 1742.4,1152.0 1744.4,1153.7 1746.4,1155.4 1748.4,1157.1 1750.3,1158.8 1752.3,1160.5 1754.2,1162.1 1756.2,1163.8 1758.1,1165.4 1760.1,1167.1 1762.1,1168.7 1764.0,1170.3 1766.0,1171.8 1768.0,1173.4 1769.9,1174.9 1771.9,1176.5 1773.8,1178.0 1775.8,1179.6 1777.7,1181.1 1779.7,1182.6 1781.6,1184.1 1783.6,1185.5 1785.6,1187.0 1787.6,1188.4 1789.5,1189.8 1791.5,1191.0 1803.7,1169.2 1801.7,1168.3 1799.6,1167.4 1797.6,1166.5 1795.6,1165.5 1793.5,1164.6 1791.5,1163.6 1789.5,1162.5 1787.4,1161.5 1785.3,1160.4 1783.3,1159.4 1781.2,1158.2 1779.2,1157.1 1777.1,1155.8 1775.1,1154.6 1773.1,1153.3 1771.0,1152.0 1769.0,1150.7 1766.9,1149.4 1764.9,1148.1 1762.8,1146.7 1760.8,1145.3 1758.7,1143.9 1756.7,1142.4 1754.7,1140.9 1752.6,1139.4 1750.6,1137.8 1748.6,1136.3 1746.6,1134.7 1744.6,1133.1 1742.6,1131.4 1740.6,1129.8 1738.6,1128.1 1736.6,1126.4 1734.5,1124.8 1732.5,1123.1 1730.5,1121.3 1728.5,1119.6 1726.5,1117.8 1724.4,1116.1 1722.4,1114.3 1720.4,1112.5 1718.4,1110.7 1716.3,1108.9 1714.3,1107.1 1712.3,1105.2 1710.3,1103.4 1708.2,1101.5 1706.2,1099.6 1704.2,1097.7 1702.2,1095.8 1700.2,1093.9 1698.2,1091.9 1696.2,1090.0 1694.2,1088.0 1692.2,1086.0 1690.2,1084.0 1688.2,1082.0 1686.2,1080.0 1684.2,1078.0 1682.2,1076.0 1680.2,1073.9 1678.2,1071.9 1676.2,1069.9 1674.2,1067.8 1672.2,1065.8 1670.2,1063.7 1668.2,1061.6 1666.2,1059.6 1664.2,1057.5 1662.2,1055.4 1660.2,1053.3 1658.2,1051.2 1656.1,1049.1 1654.1,1047.0 1652.1,1044.9 1650.1,1042.8 1648.1,1040.7 1646.1,1038.6 1644.1,1036.5 1642.1,1034.4 1640.1,1032.3 1638.1,1030.2 1636.1,1028.1 1634.1,1025.9 1632.0,1023.8 1630.0,1021.7 1628.0,1019.6 1626.0,1017.5 1624.0,1015.3 1622.0,1013.2 1620.0,1011.1 1618.0,1009.0 1616.0,1006.9 1613.9,1004.8 1611.9,1002.7 1609.9,1000.6 1607.9,998.5 1605.9,996.4 1603.9,994.3 1601.9,992.2 1599.9,990.1 1597.8,988.0 1595.8,986.0 1593.8,983.9 1591.8,981.8 1589.8,979.8 1587.8,977.7 1585.8,975.6 1583.7,973.6 1581.7,971.5 1579.7,969.5 1577.7,967.5 1575.7,965.4 1573.7,963.4 1571.7,961.4 1569.6,959.3 1567.6,957.3 1565.6,955.3 1563.6,953.3 1561.6,951.3 1559.6,949.3 1557.6,947.3 1555.5,945.3 1553.5,943.3 1551.5,941.4 1549.5,939.4 1547.5,937.4 1545.5,935.5 1543.5,933.5 1541.4,931.6 1539.4,929.6 1537.4,927.7 1535.4,925.7 1533.4,923.8 1531.4,921.9 1529.3,920.0 1527.3,918.1 1525.3,916.2 1523.3,914.3 1521.3,912.4 1519.3,910.5 1517.3,908.6 1515.2,906.7 1513.2,904.8 1511.2,903.0 1509.2,901.1 1507.2,899.3 1505.2,897.4 1503.1,895.6 1501.1,893.7 1499.1,891.9 1497.1,890.1 1495.1,888.3 1493.1,886.5 1491.0,884.7 1489.0,882.9 1487.0,881.1 1485.0,879.3 1483.0,877.5 1481.0,875.8 1478.9,874.0 1476.9,872.3 1474.9,870.5 1472.9,868.8 1470.9,867.1 1468.8,865.3 1466.8,863.6 1464.8,861.9 1462.8,860.2 1460.8,858.5 1458.8,856.8 1456.7,855.1 1454.7,853.5 1452.7,851.8 1450.7,850.1 1448.7,848.5 1446.7,846.8 1444.6,845.2 1442.6,843.6 1440.6,842.0 1438.6,840.3 1436.6,838.7 1434.5,837.1 1432.5,835.5 1430.5,833.9 1428.5,832.4 1426.5,830.8 1424.5,829.2 1422.4,827.7 1420.4,826.1 1418.4,824.5 1416.4,823.0 1414.4,821.5 1412.4,819.9 1410.3,818.4 1408.3,816.9 1406.3,815.4 1404.3,813.9 1402.3,812.4 1400.3,810.9 1398.2,809.4 1396.2,807.9 1394.2,806.5 1392.2,805.0 1390.2,803.5 1388.2,802.1 1386.1,800.6 1384.1,799.2 1382.1,797.7 1380.1,796.3 1378.1,794.9 1376.1,793.5 1374.0,792.0 1372.0,790.6 1370.0,789.2 1368.0,787.8 1366.0,786.4 1364.0,785.1 1362.0,783.7 1359.9,782.3 1357.9,780.9 1355.9,779.6 1353.9,778.2 1351.9,776.9 1349.9,775.5 1347.8,774.2 1345.8,772.8 1343.8,771.5 1341.8,770.2 1339.8,768.9 1337.8,767.5 1335.8,766.2 1333.7,764.9 1331.7,763.6 1329.7,762.3 1327.7,761.0 1325.7,759.7 1323.7,758.5 1321.6,757.2 1319.6,755.9 1317.6,754.7 1315.6,753.4 1313.6,752.1 1311.6,750.9 1309.6,749.6 1307.5,748.4 1305.5,747.2 1303.5,745.9 1301.5,744.7 1299.5,743.5 1297.5,742.3 1295.5,741.1 1293.5,739.8 1291.4,738.6 1289.4,737.4 1287.4,736.2 1285.4,735.1 1283.4,733.9 1281.4,732.7 1279.4,731.5 1277.4,730.3 1275.4,729.2 1273.3,728.0 1271.3,726.9 1269.3,725.7 1267.3,724.6 1265.3,723.4 1263.3,722.3 1261.3,721.2 1259.3,720.1 1257.3,718.9 1255.2,717.8 1253.2,716.7 1251.2,715.6 1249.2,714.5 1247.2,713.4 1245.2,712.4 1243.2,711.3 1241.1,710.2 1239.1,709.2 1237.1,708.1 1235.1,707.1 1233.1,706.1 1231.0,705.1 1229.0,704.1 1227.0,703.1 1225.0,702.1 1222.9,701.1 1220.9,700.2 1218.9,699.3 1216.8,698.3 1214.8,697.4 1212.8,696.5 1210.8,695.7 1208.7,694.8 1206.7,694.0 1204.6,693.1 1202.6,692.3 1200.6,691.6 1198.5,690.8 1196.5,690.0 1194.5,689.3 1192.4,688.6 1190.4,687.9 1188.3,687.2 1186.3,686.6 1184.2,686.0 1182.2,685.4 1180.1,684.8 1178.1,684.3 1176.0,683.7 1174.0,683.2 1171.9,682.8 1169.8,682.3 1167.8,681.9 1165.7,681.5 1163.7,681.1 1161.6,680.8 1159.6,680.4 1157.5,680.1 1155.5,679.8 1153.4,679.6 1151.3,679.4 1149.3,679.2 1147.2,679.0 1145.2,678.8 1143.1,678.7 1141.1,678.5 1139.0,678.5 1137.0,678.4 1134.9,678.3 1132.9,678.3 1130.8,678.3 1128.8,678.3 1126.7,678.3 1124.7,678.4 1122.6,678.5 1120.6,678.6 1118.5,678.7 1116.5,678.8 1114.4,679.0 1112.4,679.1 1110.3,679.3 1108.3,679.5 1106.3,679.8 1104.2,680.0 1102.2,680.3 1100.1,680.6 1098.1,680.9 1096.1,681.2 1094.0,681.5 1092.0,681.9 1089.9,682.2 1087.9,682.6 1085.9,683.0 1083.8,683.5 1081.8,683.9 1079.8,684.3 1077.7,684.8 1075.7,685.3 1073.7,685.8 1071.6,686.3 1069.6,686.8 1067.6,687.4 1065.5,687.9 1063.5,688.5 1061.5,689.1 1059.4,689.7 1057.4,690.3 1055.4,690.9 1053.4,691.5 1051.3,692.2 1049.3,692.8 1047.3,693.5 1045.2,694.2 1043.2,694.9 1041.2,695.6 1039.2,696.3 1037.2,697.0 1035.1,697.8 1033.1,698.5 1031.1,699.3 1029.1,700.0 1027.0,700.8 1025.0,701.6 1023.0,702.4 1021.0,703.2 1019.0,704.0 1017.0,704.9 1014.9,705.7 1012.9,706.6 1010.9,707.4 1008.9,708.3 1006.9,709.1 1004.9,710.0 1002.8,710.9 1000.8,711.8 998.8,712.7 996.8,713.6 994.8,714.5 992.8,715.4 990.8,716.3 988.7,717.3 986.7,718.2 984.7,719.1 982.7,720.1 980.7,721.0 978.7,722.0 976.7,722.9 974.7,723.8 972.7,724.8 970.7,725.7 968.7,726.7 966.7,727.6 964.7,728.5 962.7,729.5 960.7,730.4 958.7,731.3 956.7,732.2 954.7,733.1 952.8,734.0 950.8,734.9 948.8,735.8 946.8,736.7 944.8,737.5 942.8,738.4 940.9,739.2 938.9,740.0 936.9,740.9 934.9,741.7 932.9,742.4 931.0,743.2 929.0,744.0 927.0,744.7 925.0,745.4 923.1,746.1 921.1,746.8 919.1,747.5 917.2,748.1 915.2,748.8 913.2,749.4 911.3,750.0 909.3,750.6 907.3,751.1 905.4,751.7 903.4,752.2 901.4,752.7 899.5,753.2 897.5,753.7 895.5,754.2 893.6,754.6 891.6,755.0 889.7,755.5 887.7,755.8 885.7,756.2 883.8,756.6 881.8,756.9 879.8,757.2 877.9,757.5 875.9,757.8 874.0,758.1 872.0,758.3 870.0,758.5 868.1,758.7 866.1,758.9 864.2,759.1 862.2,759.2 860.2,759.4 858.3,759.5 856.3,759.6 854.4,759.6 852.4,759.7 850.5,759.7 848.5,759.7 846.5,759.7 844.6,759.7 842.6,759.7 840.7,759.6 838.7,759.5 836.8,759.4 834.8,759.3 832.9,759.1 830.9,758.9 829.0,758.7 827.0,758.5 825.1,758.2 823.1,757.9 821.2,757.6 819.3,757.3 817.3,756.9 815.4,756.5 813.5,756.0 811.5,755.5 809.6,755.0 807.7,754.5 805.7,753.9 803.8,753.2 801.9,752.6 800.0,751.9 798.0,751.1 796.1,750.3 794.2,749.5 792.2,748.6 790.3,747.7 788.4,746.7 786.5,745.7 784.5,744.7 782.6,743.6 780.7,742.4 778.7,741.2 776.8,739.9 774.8,738.6 772.9,737.2 771.0,735.8 769.0,734.3 767.1,732.8 765.1,731.2 763.2,729.5 761.2,727.8 759.3,726.1 757.3,724.2 755.3,722.3 753.4,720.4 751.4,718.4 749.4,716.3 747.5,714.2 745.5,712.0 743.5,709.8 741.5,707.5 739.5,705.2 737.6,702.8 735.6,700.4 733.6,697.9 731.6,695.4 729.6,692.8 727.6,690.2 725.6,687.6 723.6,684.9 721.6,682.1 719.6,679.3 717.7,676.5 715.7,673.6 713.7,670.7 711.7,667.8 709.7,664.8 707.7,661.7 705.7,658.7 703.7,655.5 701.7,652.4 699.7,649.1 697.8,645.7 695.8,642.1 693.8,638.4 691.8,634.5 689.8,630.4 687.8,626.3 685.8,622.0 683.8,617.6 681.8,613.3 679.8,609.1 677.7,605.1 675.6,601.3 673.5,597.9 671.4,594.9 669.3,592.2 667.2,589.7 665.2,587.3 663.2,585.0 661.2,582.6 659.3,580.1 657.4,577.4 655.5,574.3 653.6,570.8 651.6,566.8 649.7,562.5 647.7,557.8 645.7,552.9 643.7,547.8 641.7,542.5 639.7,537.1 637.7,531.7 635.7,526.2 633.7,520.7 631.7,515.4 629.7,510.1 627.7,505.0 625.6,500.1 623.6,495.4 621.6,490.8 619.6,486.4 617.6,482.0 615.6,477.7 613.5,473.4 611.5,469.1 609.6,464.8 607.6,460.3 605.6,455.8 603.6,451.2 601.6,446.4 599.6,441.6 597.6,436.6 595.6,431.5 593.6,426.3 591.6,421.1 589.6,415.8 587.6,410.4 585.6,404.9 583.6,399.4 581.6,393.9 579.6,388.3 577.6,382.7 575.6,377.1 573.6,371.4 571.6,365.8 569.6,360.2 567.5,354.5 565.5,349.0 563.5,343.4 561.5,337.9 559.5,332.4 557.5,326.9 555.5,321.6 553.5,316.3 551.5,311.0 549.5,305.9 547.5,300.7 545.4,295.6 543.4,290.5 541.4,285.3 539.4,280.2 537.4,274.9 535.4,269.6 533.4,264.2 531.4,258.6 529.4,253.0 527.5,247.1 525.5,241.1 523.5,234.9 521.5,228.5 519.5,221.8 517.5,214.9 515.5,207.7" fill="#00ad62"/><circle cx="512.1" cy="208.7" r="3.50" fill="#00ad62"/><circle cx="1797.6" cy="1180.1" r="12.50" fill="#00ad62"/>
<polygon points="1795,1166 1797.6,1166.5 1809.1,1173.4 1812,1174.6 1817.8,1165.9 1821.8,1161.9 1826.4,1162.5 1829.3,1165.9 1829.3,1232.2 1825.3,1235 1821.8,1229.3 1819.5,1220.6 1814.9,1212 1812,1203.4 1803.4,1198.8 1794.7,1193.6 1791.8,1187.8" fill="#00ad62"/>
</g>
<rect x="336.0" y="32.0" width="1935.0" height="1558.5" fill="none" stroke="#111" stroke-width="5.5"/>
<path d="M321.5,1590.8H336.0M321.5,1548.3H336.0M321.5,1512.4H336.0M321.5,1481.2H336.0M321.5,1453.8H336.0M306.0,1429.2H336.0M321.5,1267.6H336.0M321.5,1173.1H336.0M321.5,1106.0H336.0M321.5,1054.0H336.0M321.5,1011.5H336.0M321.5,975.6H336.0M321.5,944.4H336.0M321.5,917.0H336.0M306.0,892.4H336.0M321.5,730.8H336.0M321.5,636.3H336.0M321.5,569.2H336.0M321.5,517.2H336.0M321.5,474.7H336.0M321.5,438.8H336.0M321.5,407.6H336.0M321.5,380.2H336.0M306.0,355.6H336.0M321.5,194.0H336.0M321.5,99.5H336.0M321.5,32.4H336.0M336.0,1590.5V1604.5M413.4,1590.5V1604.5M473.4,1590.5V1604.5M522.4,1590.5V1604.5M563.8,1590.5V1604.5M599.7,1590.5V1604.5M631.4,1590.5V1604.5M659.8,1590.5V1619.5M846.1,1590.5V1604.5M955.2,1590.5V1604.5M1032.5,1590.5V1604.5M1092.5,1590.5V1604.5M1141.5,1590.5V1604.5M1183.0,1590.5V1604.5M1218.9,1590.5V1604.5M1250.6,1590.5V1604.5M1278.9,1590.5V1619.5M1465.3,1590.5V1604.5M1574.3,1590.5V1604.5M1651.7,1590.5V1604.5M1711.7,1590.5V1604.5M1760.7,1590.5V1604.5M1802.1,1590.5V1604.5M1838.0,1590.5V1604.5M1869.7,1590.5V1604.5M1898.1,1590.5V1619.5M2084.4,1590.5V1604.5M2193.5,1590.5V1604.5M2270.8,1590.5V1604.5" stroke="#111" stroke-width="5.5" fill="none"/>
<text x="247.68" y="1448.9" font-size="68" font-family="'Liberation Sans', Arial, sans-serif" fill="#000"><tspan dx="2.0">1</tspan></text>
<text x="209.86" y="912.1" font-size="68" font-family="'Liberation Sans', Arial, sans-serif" fill="#000"><tspan dx="2.0">1</tspan><tspan dx="-2.0">0</tspan></text>
<text x="172.04" y="375.3" font-size="68" font-family="'Liberation Sans', Arial, sans-serif" fill="#000"><tspan dx="2.0">1</tspan><tspan dx="-2.0">0</tspan>0</text>
<text x="593.58" y="1692.0" font-size="68" font-family="'Liberation Sans', Arial, sans-serif" fill="#000">0.0<tspan dx="2.0">1</tspan></text>
<text x="1231.64" y="1692.0" font-size="68" font-family="'Liberation Sans', Arial, sans-serif" fill="#000">0.<tspan dx="2.0">1</tspan></text>
<text x="1879.14" y="1692.0" font-size="68" font-family="'Liberation Sans', Arial, sans-serif" fill="#000"><tspan dx="2.0">1</tspan></text>
<text transform="translate(85.4,763) rotate(-90)" x="0" y="0" font-size="82" text-anchor="middle" font-family="'Liberation Sans', Arial, sans-serif" fill="#000">Intensity, a.u.</text>
<text x="1205" y="1827" font-size="82" font-family="'Liberation Sans', Arial, sans-serif" fill="#000">q, Å<tspan font-size="58" dy="-33">-1</tspan></text>
<rect x="1302" y="42.8" width="954" height="364.8" fill="#fff" stroke="#858585" stroke-width="4.2"/>
<line x1="1308" y1="88.8" x2="1459.5" y2="88.8" stroke="#0066e0" stroke-width="7.5"/>
<line x1="1308" y1="168.5" x2="1459.5" y2="168.5" stroke="#ff2020" stroke-width="7.5"/>
<line x1="1308" y1="252" x2="1459.5" y2="252" stroke="#00ad62" stroke-width="7.5"/>
<line x1="1308" y1="348.5" x2="1459.5" y2="348.5" stroke="#2a2a2a" stroke-width="7.5"/>
<g transform="translate(1476.6,109.8) scale(1,1.045)"><text x="0" y="0" font-size="67" textLength="328.1" font-family="'Liberation Sans', Arial, sans-serif" fill="#000">PVP SAXS</text></g>
<g transform="translate(1476.6,190.9) scale(1,1.045)"><text x="0" y="0" font-size="67" textLength="345.2" font-family="'Liberation Sans', Arial, sans-serif" fill="#000">PVP WAXS</text></g>
<g transform="translate(1477.6,271.6) scale(1,1.045)"><text x="0" y="0" font-size="67" textLength="753" font-family="'Liberation Sans', Arial, sans-serif" fill="#000">WO<tspan font-size="44" dy="18">3</tspan><tspan dy="-18">@PVP (Na_3) SAXS</tspan></text></g>
<g transform="translate(1477.6,369.2) scale(1,1.045)"><text x="0" y="0" font-size="67" textLength="770" font-family="'Liberation Sans', Arial, sans-serif" fill="#000">WO<tspan font-size="44" dy="16.5">3</tspan><tspan dy="-16.5">@PVP (Na_3) WAXS</tspan></text></g>
<g><rect x="254" y="1443" width="12.78" height="7" fill="#fff"/><rect x="272.79" y="1443" width="12.21" height="7" fill="#fff"/><rect x="216" y="906" width="12.96" height="7" fill="#fff"/><rect x="234.97" y="906" width="13.03" height="7" fill="#fff"/><rect x="178" y="369" width="13.14" height="7" fill="#fff"/><rect x="197.15" y="369" width="12.85" height="7" fill="#fff"/><rect x="694" y="1686" width="13.21" height="7" fill="#fff"/><rect x="713.21" y="1686" width="12.79" height="7" fill="#fff"/><rect x="1294" y="1686" width="13.45" height="7" fill="#fff"/><rect x="1313.46" y="1686" width="12.54" height="7" fill="#fff"/><rect x="1885" y="1686" width="13.24" height="7" fill="#fff"/><rect x="1904.25" y="1686" width="12.75" height="7" fill="#fff"/><rect x="1374" y="1789" width="10.76" height="6" fill="#fff"/><rect x="1389.89" y="1789" width="11.11" height="6" fill="#fff"/></g>
</svg></div>
</body></html>
